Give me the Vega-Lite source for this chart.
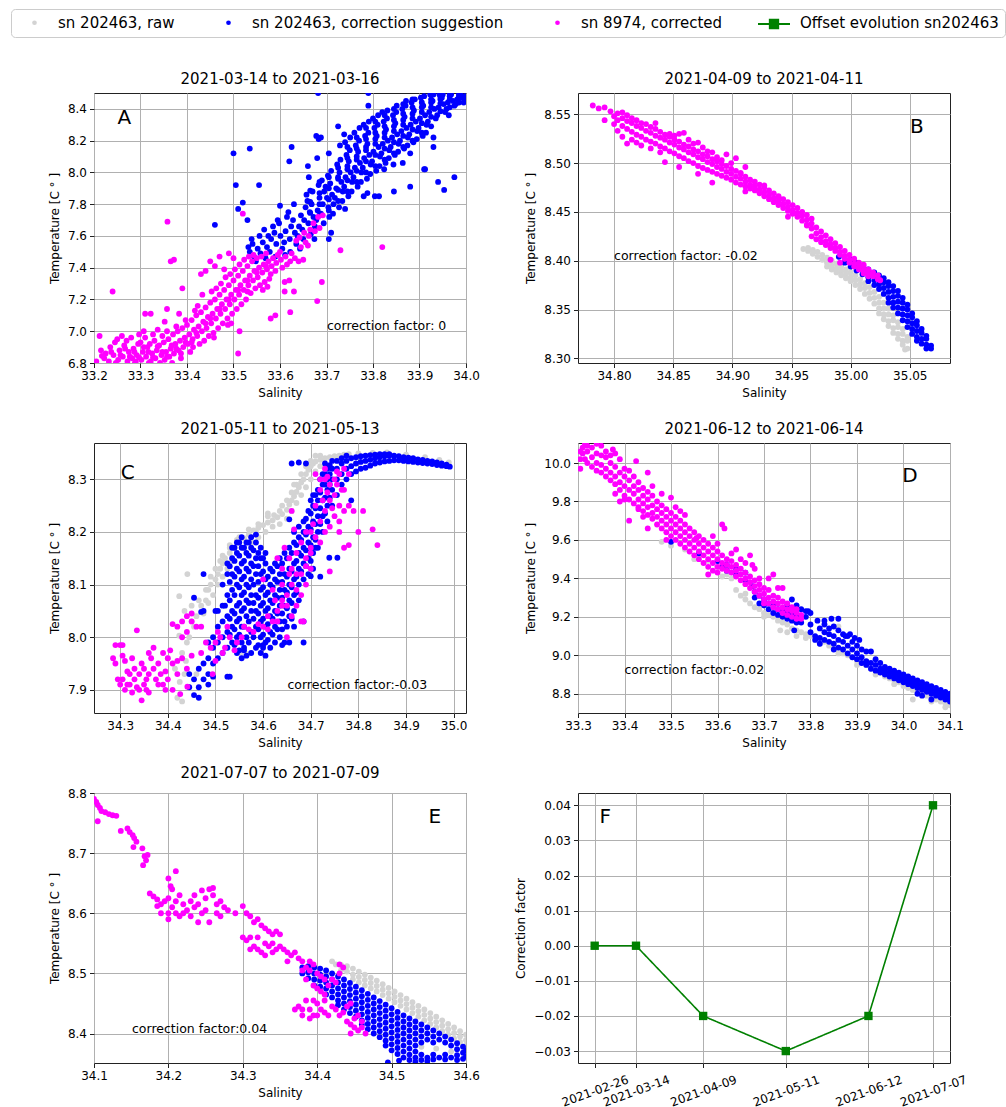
{
"$schema":"https://vega.github.io/schema/vega-lite/v6.json",
"background":"white",
"padding":{"left":10,"top":6,"right":3,"bottom":3},
"autosize":{"type":"pad"},
"config":{
"font":"DejaVu Sans",
"view":{"stroke":"#222222","strokeWidth":1},
"axis":{"domain":false,"grid":true,"gridColor":"#b0b0b0","gridWidth":1,"tickColor":"#222222","tickSize":4.5,"labelFontSize":12,"labelColor":"black","titleFontSize":12,"titleFontWeight":"normal","titleColor":"black","labelPadding":3,"titlePadding":6,"labelFlush":false,"labelOverlap":false,"tickCount":30},
"title":{"fontSize":15,"fontWeight":"normal","color":"black","offset":6},
"legend":{"symbolSize":22,"labelFontSize":15,"labelColor":"black","columnPadding":36,"labelOffset":16,"symbolOffset":10,"padding":6,"fillColor":"white","strokeColor":"#cccccc","cornerRadius":4,"labelLimit":400,"symbolStrokeWidth":0,"symbolOpacity":1}
},
"columns":2,
"spacing":{"row":80,"column":112},
"bounds":"flush",
"datasets":{
"pa":[
{"s":"b","x":33.532,"y":7.53},{"s":"b","x":33.535,"y":7.5},{"s":"b","x":33.541,"y":7.55},{"s":"b","x":33.544,"y":7.47},{"s":"b","x":33.539,"y":7.58},{"s":"b","x":33.552,"y":7.52},{"s":"b","x":33.548,"y":7.44},{"s":"b","x":33.556,"y":7.6},{"s":"b","x":33.563,"y":7.56},{"s":"b","x":33.558,"y":7.49},{"s":"b","x":33.566,"y":7.64},{"s":"b","x":33.572,"y":7.53},{"s":"b","x":33.575,"y":7.6},{"s":"b","x":33.569,"y":7.46},{"s":"b","x":33.581,"y":7.58},{"s":"b","x":33.585,"y":7.66},{"s":"b","x":33.578,"y":7.5},{"s":"b","x":33.592,"y":7.55},{"s":"b","x":33.588,"y":7.62},{"s":"b","x":33.595,"y":7.7},{"s":"b","x":33.59,"y":7.47},{"s":"b","x":33.601,"y":7.6},{"s":"b","x":33.605,"y":7.52},{"s":"b","x":33.598,"y":7.68},{"s":"b","x":33.6,"y":7.79},{"s":"b","x":33.612,"y":7.63},{"s":"b","x":33.609,"y":7.56},{"s":"b","x":33.615,"y":7.72},{"s":"b","x":33.611,"y":7.48},{"s":"b","x":33.621,"y":7.58},{"s":"b","x":33.624,"y":7.66},{"s":"b","x":33.618,"y":7.75},{"s":"b","x":33.622,"y":7.5},{"s":"b","x":33.632,"y":7.62},{"s":"b","x":33.628,"y":7.7},{"s":"b","x":33.635,"y":7.55},{"s":"b","x":33.63,"y":7.8},{"s":"b","x":33.641,"y":7.66},{"s":"b","x":33.645,"y":7.73},{"s":"b","x":33.638,"y":7.6},{"s":"b","x":33.643,"y":7.52},{"s":"b","x":33.652,"y":7.7},{"s":"b","x":33.648,"y":7.64},{"s":"b","x":33.655,"y":7.78},{"s":"b","x":33.65,"y":7.58},{"s":"b","x":33.657,"y":7.86},{"s":"b","x":33.661,"y":7.68},{"s":"b","x":33.664,"y":7.75},{"s":"b","x":33.659,"y":7.82},{"s":"b","x":33.666,"y":7.61},{"s":"b","x":33.662,"y":7.97},{"s":"b","x":33.672,"y":7.72},{"s":"b","x":33.668,"y":7.8},{"s":"b","x":33.675,"y":7.66},{"s":"b","x":33.67,"y":7.88},{"s":"b","x":33.674,"y":7.58},{"s":"b","x":33.681,"y":7.76},{"s":"b","x":33.685,"y":7.84},{"s":"b","x":33.678,"y":7.7},{"s":"b","x":33.683,"y":7.92},{"s":"b","x":33.68,"y":8.09},{"s":"b","x":33.692,"y":7.8},{"s":"b","x":33.688,"y":7.74},{"s":"b","x":33.695,"y":7.88},{"s":"b","x":33.69,"y":7.95},{"s":"b","x":33.694,"y":7.68},{"s":"b","x":33.701,"y":7.84},{"s":"b","x":33.704,"y":7.78},{"s":"b","x":33.698,"y":7.91},{"s":"b","x":33.703,"y":7.98},{"s":"b","x":33.706,"y":7.72},{"s":"b","x":33.71,"y":7.62},{"s":"b","x":33.712,"y":7.86},{"s":"b","x":33.708,"y":7.93},{"s":"b","x":33.715,"y":7.8},{"s":"b","x":33.71,"y":8.01},{"s":"b","x":33.714,"y":7.74},{"s":"b","x":33.705,"y":8.12},{"s":"b","x":33.721,"y":7.9},{"s":"b","x":33.725,"y":7.97},{"s":"b","x":33.718,"y":7.84},{"s":"b","x":33.723,"y":8.05},{"s":"b","x":33.727,"y":7.78},{"s":"b","x":33.732,"y":7.94},{"s":"b","x":33.728,"y":8.0},{"s":"b","x":33.735,"y":7.88},{"s":"b","x":33.73,"y":8.08},{"s":"b","x":33.734,"y":7.82},{"s":"b","x":33.729,"y":8.17},{"s":"b","x":33.741,"y":7.97},{"s":"b","x":33.745,"y":8.04},{"s":"b","x":33.738,"y":7.91},{"s":"b","x":33.743,"y":8.11},{"s":"b","x":33.747,"y":7.85},{"s":"b","x":33.74,"y":8.19},{"s":"b","x":33.752,"y":8.0},{"s":"b","x":33.748,"y":8.07},{"s":"b","x":33.755,"y":7.94},{"s":"b","x":33.75,"y":8.14},{"s":"b","x":33.754,"y":7.88},{"s":"b","x":33.751,"y":8.22},{"s":"b","x":33.761,"y":8.03},{"s":"b","x":33.765,"y":8.1},{"s":"b","x":33.758,"y":7.97},{"s":"b","x":33.763,"y":8.17},{"s":"b","x":33.767,"y":7.91},{"s":"b","x":33.76,"y":8.25},{"s":"b","x":33.772,"y":8.06},{"s":"b","x":33.768,"y":8.13},{"s":"b","x":33.775,"y":8.0},{"s":"b","x":33.77,"y":8.2},{"s":"b","x":33.774,"y":7.94},{"s":"b","x":33.771,"y":8.28},{"s":"b","x":33.781,"y":8.09},{"s":"b","x":33.785,"y":8.16},{"s":"b","x":33.778,"y":8.03},{"s":"b","x":33.783,"y":8.23},{"s":"b","x":33.787,"y":7.96},{"s":"b","x":33.78,"y":8.3},{"s":"b","x":33.792,"y":8.11},{"s":"b","x":33.788,"y":8.18},{"s":"b","x":33.795,"y":8.05},{"s":"b","x":33.79,"y":8.25},{"s":"b","x":33.794,"y":7.99},{"s":"b","x":33.791,"y":8.32},{"s":"b","x":33.801,"y":8.13},{"s":"b","x":33.805,"y":8.21},{"s":"b","x":33.798,"y":8.07},{"s":"b","x":33.803,"y":8.28},{"s":"b","x":33.807,"y":8.01},{"s":"b","x":33.8,"y":8.34},{"s":"b","x":33.804,"y":7.85},{"s":"b","x":33.812,"y":8.16},{"s":"b","x":33.808,"y":8.23},{"s":"b","x":33.815,"y":8.1},{"s":"b","x":33.81,"y":8.3},{"s":"b","x":33.814,"y":8.04},{"s":"b","x":33.811,"y":8.36},{"s":"b","x":33.821,"y":8.18},{"s":"b","x":33.825,"y":8.25},{"s":"b","x":33.818,"y":8.12},{"s":"b","x":33.823,"y":8.32},{"s":"b","x":33.827,"y":8.06},{"s":"b","x":33.82,"y":8.38},{"s":"b","x":33.824,"y":8.02},{"s":"b","x":33.832,"y":8.2},{"s":"b","x":33.828,"y":8.27},{"s":"b","x":33.835,"y":8.14},{"s":"b","x":33.83,"y":8.34},{"s":"b","x":33.834,"y":8.09},{"s":"b","x":33.831,"y":8.39},{"s":"b","x":33.841,"y":8.22},{"s":"b","x":33.845,"y":8.29},{"s":"b","x":33.838,"y":8.16},{"s":"b","x":33.843,"y":8.36},{"s":"b","x":33.847,"y":8.11},{"s":"b","x":33.844,"y":8.05},{"s":"b","x":33.852,"y":8.24},{"s":"b","x":33.848,"y":8.31},{"s":"b","x":33.855,"y":8.18},{"s":"b","x":33.85,"y":8.38},{"s":"b","x":33.854,"y":8.13},{"s":"b","x":33.851,"y":8.42},{"s":"b","x":33.861,"y":8.26},{"s":"b","x":33.865,"y":8.33},{"s":"b","x":33.858,"y":8.2},{"s":"b","x":33.863,"y":8.4},{"s":"b","x":33.867,"y":8.15},{"s":"b","x":33.864,"y":8.06},{"s":"b","x":33.872,"y":8.28},{"s":"b","x":33.868,"y":8.35},{"s":"b","x":33.875,"y":8.22},{"s":"b","x":33.87,"y":8.42},{"s":"b","x":33.874,"y":8.17},{"s":"b","x":33.871,"y":8.45},{"s":"b","x":33.881,"y":8.3},{"s":"b","x":33.885,"y":8.37},{"s":"b","x":33.878,"y":8.24},{"s":"b","x":33.883,"y":8.44},{"s":"b","x":33.887,"y":8.19},{"s":"b","x":33.88,"y":8.12},{"s":"b","x":33.892,"y":8.32},{"s":"b","x":33.888,"y":8.39},{"s":"b","x":33.895,"y":8.26},{"s":"b","x":33.89,"y":8.46},{"s":"b","x":33.894,"y":8.21},{"s":"b","x":33.901,"y":8.34},{"s":"b","x":33.905,"y":8.41},{"s":"b","x":33.898,"y":8.28},{"s":"b","x":33.903,"y":8.47},{"s":"b","x":33.907,"y":8.23},{"s":"b","x":33.91,"y":8.02},{"s":"b","x":33.912,"y":8.36},{"s":"b","x":33.908,"y":8.42},{"s":"b","x":33.915,"y":8.3},{"s":"b","x":33.91,"y":8.48},{"s":"b","x":33.914,"y":8.25},{"s":"b","x":33.921,"y":8.38},{"s":"b","x":33.925,"y":8.44},{"s":"b","x":33.918,"y":8.32},{"s":"b","x":33.923,"y":8.49},{"s":"b","x":33.932,"y":8.4},{"s":"b","x":33.928,"y":8.45},{"s":"b","x":33.935,"y":8.34},{"s":"b","x":33.93,"y":8.49},{"s":"b","x":33.941,"y":8.41},{"s":"b","x":33.945,"y":8.46},{"s":"b","x":33.938,"y":8.36},{"s":"b","x":33.943,"y":8.49},{"s":"b","x":33.952,"y":8.43},{"s":"b","x":33.948,"y":8.47},{"s":"b","x":33.955,"y":8.38},{"s":"b","x":33.95,"y":8.49},{"s":"b","x":33.961,"y":8.44},{"s":"b","x":33.965,"y":8.48},{"s":"b","x":33.958,"y":8.4},{"s":"b","x":33.963,"y":8.36},{"s":"b","x":33.972,"y":8.45},{"s":"b","x":33.968,"y":8.49},{"s":"b","x":33.975,"y":8.42},{"s":"b","x":33.981,"y":8.46},{"s":"b","x":33.985,"y":8.49},{"s":"b","x":33.978,"y":8.43},{"s":"b","x":33.992,"y":8.47},{"s":"b","x":33.988,"y":8.49},{"s":"b","x":33.995,"y":8.44},{"s":"b","x":33.998,"y":8.48},{"s":"b","x":34.0,"y":8.46},
{"s":"b","x":33.665,"y":7.745},{"s":"b","x":33.665,"y":7.815},{"s":"b","x":33.665,"y":7.885},{"s":"b","x":33.685,"y":7.8},{"s":"b","x":33.685,"y":7.87},{"s":"b","x":33.685,"y":7.94},{"s":"b","x":33.685,"y":7.73},{"s":"b","x":33.705,"y":7.83},{"s":"b","x":33.705,"y":7.9},{"s":"b","x":33.705,"y":7.97},{"s":"b","x":33.705,"y":7.76},{"s":"b","x":33.725,"y":7.89},{"s":"b","x":33.725,"y":7.96},{"s":"b","x":33.725,"y":8.03},{"s":"b","x":33.725,"y":7.82},{"s":"b","x":33.745,"y":7.95},{"s":"b","x":33.745,"y":8.02},{"s":"b","x":33.745,"y":8.09},{"s":"b","x":33.745,"y":7.88},{"s":"b","x":33.745,"y":8.16},{"s":"b","x":33.765,"y":8.01},{"s":"b","x":33.765,"y":8.08},{"s":"b","x":33.765,"y":8.15},{"s":"b","x":33.765,"y":7.94},{"s":"b","x":33.765,"y":8.22},{"s":"b","x":33.785,"y":8.07},{"s":"b","x":33.785,"y":8.14},{"s":"b","x":33.785,"y":8.21},{"s":"b","x":33.785,"y":8.0},{"s":"b","x":33.785,"y":8.28},{"s":"b","x":33.805,"y":8.11},{"s":"b","x":33.805,"y":8.18},{"s":"b","x":33.805,"y":8.25},{"s":"b","x":33.805,"y":8.04},{"s":"b","x":33.805,"y":8.32},{"s":"b","x":33.825,"y":8.15},{"s":"b","x":33.825,"y":8.22},{"s":"b","x":33.825,"y":8.29},{"s":"b","x":33.825,"y":8.08},{"s":"b","x":33.825,"y":8.36},{"s":"b","x":33.845,"y":8.19},{"s":"b","x":33.845,"y":8.26},{"s":"b","x":33.845,"y":8.33},{"s":"b","x":33.845,"y":8.12},{"s":"b","x":33.845,"y":8.4},{"s":"b","x":33.865,"y":8.23},{"s":"b","x":33.865,"y":8.3},{"s":"b","x":33.865,"y":8.37},{"s":"b","x":33.865,"y":8.16},{"s":"b","x":33.865,"y":8.43},{"s":"b","x":33.885,"y":8.27},{"s":"b","x":33.885,"y":8.34},{"s":"b","x":33.885,"y":8.41},{"s":"b","x":33.885,"y":8.2},{"s":"b","x":33.885,"y":8.46},{"s":"b","x":33.905,"y":8.31},{"s":"b","x":33.905,"y":8.38},{"s":"b","x":33.905,"y":8.44},{"s":"b","x":33.905,"y":8.25},{"s":"b","x":33.925,"y":8.35},{"s":"b","x":33.925,"y":8.41},{"s":"b","x":33.925,"y":8.46},{"s":"b","x":33.925,"y":8.29},{"s":"b","x":33.945,"y":8.385},{"s":"b","x":33.945,"y":8.435},{"s":"b","x":33.945,"y":8.475},{"s":"b","x":33.965,"y":8.41},{"s":"b","x":33.965,"y":8.46},{"s":"b","x":33.965,"y":8.49},{"s":"b","x":33.985,"y":8.44},{"s":"b","x":33.985,"y":8.48},
{"s":"b","x":33.5,"y":8.12},{"s":"b","x":33.535,"y":8.15},{"s":"b","x":33.505,"y":7.92},{"s":"b","x":33.555,"y":7.92},{"s":"b","x":33.52,"y":7.81},{"s":"b","x":33.46,"y":7.67},{"s":"b","x":33.51,"y":7.77},{"s":"b","x":33.53,"y":7.7},{"s":"b","x":33.625,"y":8.16},{"s":"b","x":33.62,"y":8.07},{"s":"b","x":33.66,"y":8.04},{"s":"b","x":33.678,"y":8.23},{"s":"b","x":33.683,"y":8.21},{"s":"b","x":33.688,"y":8.22},{"s":"b","x":33.725,"y":8.29},{"s":"b","x":33.738,"y":8.24},{"s":"b","x":33.682,"y":8.5},{"s":"b","x":33.79,"y":8.5},{"s":"b","x":33.79,"y":8.42},{"s":"b","x":33.93,"y":8.22},{"s":"b","x":33.93,"y":8.16},{"s":"b","x":33.975,"y":7.97},{"s":"b","x":33.953,"y":7.89},{"s":"b","x":33.94,"y":7.94},{"s":"b","x":33.912,"y":8.02},{"s":"b","x":33.88,"y":7.91},{"s":"b","x":33.845,"y":7.88},{"s":"b","x":33.813,"y":7.85},{"s":"b","x":33.788,"y":7.87},{"s":"b","x":33.705,"y":7.58},{"s":"b","x":33.74,"y":7.77},{"s":"b","x":33.78,"y":7.85},
{"s":"m","x":33.205,"y":6.81},{"s":"m","x":33.215,"y":6.88},{"s":"m","x":33.212,"y":6.97},{"s":"m","x":33.222,"y":6.83},{"s":"m","x":33.225,"y":6.86},{"s":"m","x":33.232,"y":6.81},{"s":"m","x":33.235,"y":6.9},{"s":"m","x":33.242,"y":6.85},{"s":"m","x":33.245,"y":6.93},{"s":"m","x":33.24,"y":7.25},{"s":"m","x":33.252,"y":6.82},{"s":"m","x":33.255,"y":6.88},{"s":"m","x":33.25,"y":6.95},{"s":"m","x":33.262,"y":6.84},{"s":"m","x":33.265,"y":6.91},{"s":"m","x":33.26,"y":6.97},{"s":"m","x":33.272,"y":6.81},{"s":"m","x":33.275,"y":6.87},{"s":"m","x":33.27,"y":6.94},{"s":"m","x":33.282,"y":6.83},{"s":"m","x":33.285,"y":6.89},{"s":"m","x":33.28,"y":6.96},{"s":"m","x":33.288,"y":6.8},{"s":"m","x":33.292,"y":6.85},{"s":"m","x":33.295,"y":6.92},{"s":"m","x":33.29,"y":6.81},{"s":"m","x":33.297,"y":6.98},{"s":"m","x":33.302,"y":6.82},{"s":"m","x":33.305,"y":6.87},{"s":"m","x":33.3,"y":6.93},{"s":"m","x":33.307,"y":7.0},{"s":"m","x":33.312,"y":6.84},{"s":"m","x":33.315,"y":6.9},{"s":"m","x":33.31,"y":6.96},{"s":"m","x":33.318,"y":6.8},{"s":"m","x":33.31,"y":7.11},{"s":"m","x":33.322,"y":6.81},{"s":"m","x":33.325,"y":6.86},{"s":"m","x":33.32,"y":6.92},{"s":"m","x":33.327,"y":6.98},{"s":"m","x":33.322,"y":7.11},{"s":"m","x":33.332,"y":6.83},{"s":"m","x":33.335,"y":6.88},{"s":"m","x":33.33,"y":6.94},{"s":"m","x":33.337,"y":7.01},{"s":"m","x":33.342,"y":6.8},{"s":"m","x":33.345,"y":6.85},{"s":"m","x":33.34,"y":6.91},{"s":"m","x":33.347,"y":6.97},{"s":"m","x":33.352,"y":6.82},{"s":"m","x":33.355,"y":6.87},{"s":"m","x":33.35,"y":6.93},{"s":"m","x":33.357,"y":7.0},{"s":"m","x":33.352,"y":7.06},{"s":"m","x":33.362,"y":6.84},{"s":"m","x":33.365,"y":6.89},{"s":"m","x":33.36,"y":6.95},{"s":"m","x":33.357,"y":7.14},{"s":"m","x":33.358,"y":7.69},{"s":"m","x":33.365,"y":7.44},{"s":"m","x":33.368,"y":6.8},{"s":"m","x":33.372,"y":6.86},{"s":"m","x":33.375,"y":6.92},{"s":"m","x":33.37,"y":6.98},{"s":"m","x":33.377,"y":7.03},{"s":"m","x":33.372,"y":7.45},{"s":"m","x":33.382,"y":6.88},{"s":"m","x":33.385,"y":6.94},{"s":"m","x":33.38,"y":7.0},{"s":"m","x":33.387,"y":6.83},{"s":"m","x":33.383,"y":7.11},{"s":"m","x":33.392,"y":6.9},{"s":"m","x":33.395,"y":6.96},{"s":"m","x":33.39,"y":7.02},{"s":"m","x":33.397,"y":7.07},{"s":"m","x":33.39,"y":7.27},{"s":"m","x":33.402,"y":6.92},{"s":"m","x":33.405,"y":6.98},{"s":"m","x":33.4,"y":7.04},{"s":"m","x":33.407,"y":6.87},{"s":"m","x":33.412,"y":6.95},{"s":"m","x":33.415,"y":7.01},{"s":"m","x":33.41,"y":7.07},{"s":"m","x":33.417,"y":7.13},{"s":"m","x":33.413,"y":6.9},{"s":"m","x":33.422,"y":6.97},{"s":"m","x":33.425,"y":7.03},{"s":"m","x":33.42,"y":7.1},{"s":"m","x":33.427,"y":6.92},{"s":"m","x":33.423,"y":7.16},{"s":"m","x":33.432,"y":7.0},{"s":"m","x":33.435,"y":7.06},{"s":"m","x":33.43,"y":7.12},{"s":"m","x":33.437,"y":6.94},{"s":"m","x":33.433,"y":7.23},{"s":"m","x":33.43,"y":7.36},{"s":"m","x":33.442,"y":7.02},{"s":"m","x":33.445,"y":7.09},{"s":"m","x":33.44,"y":7.15},{"s":"m","x":33.447,"y":6.97},{"s":"m","x":33.44,"y":7.38},{"s":"m","x":33.452,"y":7.05},{"s":"m","x":33.455,"y":7.11},{"s":"m","x":33.45,"y":7.18},{"s":"m","x":33.457,"y":6.99},{"s":"m","x":33.453,"y":7.25},{"s":"m","x":33.45,"y":7.44},{"s":"m","x":33.462,"y":7.08},{"s":"m","x":33.465,"y":7.14},{"s":"m","x":33.46,"y":7.2},{"s":"m","x":33.467,"y":7.02},{"s":"m","x":33.463,"y":7.27},{"s":"m","x":33.458,"y":6.96},{"s":"m","x":33.46,"y":7.41},{"s":"m","x":33.472,"y":7.11},{"s":"m","x":33.475,"y":7.17},{"s":"m","x":33.47,"y":7.23},{"s":"m","x":33.477,"y":7.05},{"s":"m","x":33.473,"y":7.3},{"s":"m","x":33.47,"y":7.47},{"s":"m","x":33.482,"y":7.14},{"s":"m","x":33.485,"y":7.2},{"s":"m","x":33.48,"y":7.26},{"s":"m","x":33.487,"y":7.08},{"s":"m","x":33.483,"y":7.34},{"s":"m","x":33.48,"y":7.39},{"s":"m","x":33.492,"y":7.17},{"s":"m","x":33.495,"y":7.23},{"s":"m","x":33.49,"y":7.29},{"s":"m","x":33.497,"y":7.11},{"s":"m","x":33.493,"y":7.36},{"s":"m","x":33.49,"y":7.49},{"s":"m","x":33.488,"y":7.04},{"s":"m","x":33.502,"y":7.2},{"s":"m","x":33.505,"y":7.26},{"s":"m","x":33.5,"y":7.32},{"s":"m","x":33.507,"y":7.14},{"s":"m","x":33.503,"y":7.39},{"s":"m","x":33.5,"y":7.46},{"s":"m","x":33.495,"y":7.05},{"s":"m","x":33.512,"y":7.23},{"s":"m","x":33.515,"y":7.29},{"s":"m","x":33.51,"y":7.35},{"s":"m","x":33.517,"y":7.17},{"s":"m","x":33.513,"y":7.42},{"s":"m","x":33.51,"y":6.86},{"s":"m","x":33.513,"y":7.0},{"s":"m","x":33.522,"y":7.26},{"s":"m","x":33.525,"y":7.32},{"s":"m","x":33.52,"y":7.38},{"s":"m","x":33.527,"y":7.2},{"s":"m","x":33.523,"y":7.45},{"s":"m","x":33.52,"y":7.74},{"s":"m","x":33.532,"y":7.29},{"s":"m","x":33.535,"y":7.35},{"s":"m","x":33.53,"y":7.41},{"s":"m","x":33.537,"y":7.24},{"s":"m","x":33.533,"y":7.47},{"s":"m","x":33.53,"y":7.25},{"s":"m","x":33.542,"y":7.32},{"s":"m","x":33.545,"y":7.38},{"s":"m","x":33.54,"y":7.44},{"s":"m","x":33.547,"y":7.27},{"s":"m","x":33.543,"y":7.48},{"s":"m","x":33.552,"y":7.34},{"s":"m","x":33.555,"y":7.4},{"s":"m","x":33.55,"y":7.46},{"s":"m","x":33.557,"y":7.29},{"s":"m","x":33.562,"y":7.37},{"s":"m","x":33.565,"y":7.42},{"s":"m","x":33.56,"y":7.47},{"s":"m","x":33.567,"y":7.31},{"s":"m","x":33.563,"y":7.26},{"s":"m","x":33.572,"y":7.39},{"s":"m","x":33.575,"y":7.44},{"s":"m","x":33.57,"y":7.49},{"s":"m","x":33.577,"y":7.33},{"s":"m","x":33.573,"y":7.28},{"s":"m","x":33.582,"y":7.41},{"s":"m","x":33.585,"y":7.46},{"s":"m","x":33.58,"y":7.36},{"s":"m","x":33.58,"y":7.08},{"s":"m","x":33.592,"y":7.43},{"s":"m","x":33.595,"y":7.48},{"s":"m","x":33.59,"y":7.38},{"s":"m","x":33.59,"y":7.1},{"s":"m","x":33.602,"y":7.45},{"s":"m","x":33.605,"y":7.4},{"s":"m","x":33.6,"y":7.5},{"s":"m","x":33.612,"y":7.47},{"s":"m","x":33.615,"y":7.42},{"s":"m","x":33.61,"y":7.31},{"s":"m","x":33.61,"y":7.25},{"s":"m","x":33.622,"y":7.44},{"s":"m","x":33.625,"y":7.49},{"s":"m","x":33.62,"y":7.32},{"s":"m","x":33.622,"y":7.12},{"s":"m","x":33.632,"y":7.46},{"s":"m","x":33.635,"y":7.57},{"s":"m","x":33.63,"y":7.25},{"s":"m","x":33.642,"y":7.59},{"s":"m","x":33.645,"y":7.53},{"s":"m","x":33.64,"y":7.44},{"s":"m","x":33.652,"y":7.62},{"s":"m","x":33.655,"y":7.56},{"s":"m","x":33.65,"y":7.45},{"s":"m","x":33.662,"y":7.6},{"s":"m","x":33.665,"y":7.64},{"s":"m","x":33.66,"y":7.54},{"s":"m","x":33.672,"y":7.68},{"s":"m","x":33.675,"y":7.63},{"s":"m","x":33.682,"y":7.72},{"s":"m","x":33.68,"y":7.19},{"s":"m","x":33.685,"y":7.65},{"s":"m","x":33.692,"y":7.73},{"s":"m","x":33.69,"y":7.31},{"s":"m","x":33.73,"y":7.51},{"s":"m","x":33.82,"y":7.53},
{"s":"m","x":33.217,"y":6.845},{"s":"m","x":33.237,"y":6.87},{"s":"m","x":33.247,"y":6.8},{"s":"m","x":33.257,"y":6.85},{"s":"m","x":33.267,"y":6.89},{"s":"m","x":33.277,"y":6.84},{"s":"m","x":33.287,"y":6.87},{"s":"m","x":33.297,"y":6.835},{"s":"m","x":33.307,"y":6.9},{"s":"m","x":33.317,"y":6.87},{"s":"m","x":33.327,"y":6.835},{"s":"m","x":33.337,"y":6.905},{"s":"m","x":33.347,"y":6.87},{"s":"m","x":33.357,"y":6.84},{"s":"m","x":33.367,"y":6.91},{"s":"m","x":33.377,"y":6.89},{"s":"m","x":33.387,"y":6.86},{"s":"m","x":33.397,"y":6.93},{"s":"m","x":33.41,"y":6.93},{"s":"m","x":33.42,"y":6.99},{"s":"m","x":33.44,"y":7.05},{"s":"m","x":33.45,"y":7.08},{"s":"m","x":33.47,"y":7.14},{"s":"m","x":33.49,"y":7.2},{"s":"m","x":33.51,"y":7.26},{"s":"m","x":33.53,"y":7.32},{"s":"m","x":33.55,"y":7.37},{"s":"m","x":33.57,"y":7.41}
],
"pb":[
{"s":"r","x":34.96,"y":8.412},{"s":"r","x":34.964,"y":8.41},{"s":"r","x":34.964,"y":8.413},{"s":"r","x":34.968,"y":8.407},{"s":"r","x":34.968,"y":8.411},{"s":"r","x":34.972,"y":8.404},{"s":"r","x":34.972,"y":8.409},{"s":"r","x":34.976,"y":8.401},{"s":"r","x":34.976,"y":8.406},{"s":"r","x":34.98,"y":8.398},{"s":"r","x":34.98,"y":8.403},{"s":"r","x":34.98,"y":8.394},{"s":"r","x":34.984,"y":8.395},{"s":"r","x":34.984,"y":8.4},{"s":"r","x":34.984,"y":8.391},{"s":"r","x":34.988,"y":8.392},{"s":"r","x":34.988,"y":8.397},{"s":"r","x":34.988,"y":8.388},{"s":"r","x":34.992,"y":8.389},{"s":"r","x":34.992,"y":8.394},{"s":"r","x":34.992,"y":8.385},{"s":"r","x":34.996,"y":8.386},{"s":"r","x":34.996,"y":8.391},{"s":"r","x":34.996,"y":8.382},{"s":"r","x":35.0,"y":8.383},{"s":"r","x":35.0,"y":8.388},{"s":"r","x":35.0,"y":8.379},{"s":"r","x":35.004,"y":8.38},{"s":"r","x":35.004,"y":8.385},{"s":"r","x":35.004,"y":8.375},{"s":"r","x":35.008,"y":8.376},{"s":"r","x":35.008,"y":8.381},{"s":"r","x":35.008,"y":8.371},{"s":"r","x":35.012,"y":8.372},{"s":"r","x":35.012,"y":8.377},{"s":"r","x":35.012,"y":8.366},{"s":"r","x":35.016,"y":8.367},{"s":"r","x":35.016,"y":8.373},{"s":"r","x":35.016,"y":8.361},{"s":"r","x":35.02,"y":8.362},{"s":"r","x":35.02,"y":8.368},{"s":"r","x":35.02,"y":8.356},{"s":"r","x":35.024,"y":8.357},{"s":"r","x":35.024,"y":8.363},{"s":"r","x":35.024,"y":8.351},{"s":"r","x":35.024,"y":8.346},{"s":"r","x":35.028,"y":8.351},{"s":"r","x":35.028,"y":8.357},{"s":"r","x":35.028,"y":8.345},{"s":"r","x":35.028,"y":8.34},{"s":"r","x":35.032,"y":8.345},{"s":"r","x":35.032,"y":8.351},{"s":"r","x":35.032,"y":8.338},{"s":"r","x":35.032,"y":8.333},{"s":"r","x":35.036,"y":8.339},{"s":"r","x":35.036,"y":8.344},{"s":"r","x":35.036,"y":8.331},{"s":"r","x":35.036,"y":8.326},{"s":"r","x":35.04,"y":8.332},{"s":"r","x":35.04,"y":8.337},{"s":"r","x":35.04,"y":8.325},{"s":"r","x":35.04,"y":8.32},{"s":"r","x":35.044,"y":8.325},{"s":"r","x":35.044,"y":8.33},{"s":"r","x":35.044,"y":8.318},{"s":"r","x":35.044,"y":8.314},{"s":"r","x":35.048,"y":8.318},{"s":"r","x":35.048,"y":8.31},{"s":"r","x":35.048,"y":8.322},{"s":"r","x":35.046,"y":8.309},
{"s":"b","x":34.99,"y":8.404},{"s":"b","x":34.995,"y":8.402},{"s":"b","x":34.995,"y":8.398},{"s":"b","x":35.0,"y":8.398},{"s":"b","x":35.0,"y":8.394},{"s":"b","x":35.0,"y":8.401},{"s":"b","x":35.005,"y":8.395},{"s":"b","x":35.005,"y":8.39},{"s":"b","x":35.005,"y":8.398},{"s":"b","x":35.01,"y":8.391},{"s":"b","x":35.01,"y":8.386},{"s":"b","x":35.01,"y":8.394},{"s":"b","x":35.015,"y":8.388},{"s":"b","x":35.015,"y":8.383},{"s":"b","x":35.015,"y":8.391},{"s":"b","x":35.015,"y":8.379},{"s":"b","x":35.02,"y":8.385},{"s":"b","x":35.02,"y":8.38},{"s":"b","x":35.02,"y":8.375},{"s":"b","x":35.02,"y":8.388},{"s":"b","x":35.024,"y":8.382},{"s":"b","x":35.024,"y":8.376},{"s":"b","x":35.024,"y":8.371},{"s":"b","x":35.024,"y":8.385},{"s":"b","x":35.028,"y":8.378},{"s":"b","x":35.028,"y":8.372},{"s":"b","x":35.028,"y":8.366},{"s":"b","x":35.028,"y":8.382},{"s":"b","x":35.032,"y":8.374},{"s":"b","x":35.032,"y":8.368},{"s":"b","x":35.032,"y":8.362},{"s":"b","x":35.032,"y":8.378},{"s":"b","x":35.032,"y":8.357},{"s":"b","x":35.036,"y":8.369},{"s":"b","x":35.036,"y":8.363},{"s":"b","x":35.036,"y":8.357},{"s":"b","x":35.036,"y":8.352},{"s":"b","x":35.036,"y":8.374},{"s":"b","x":35.04,"y":8.364},{"s":"b","x":35.04,"y":8.358},{"s":"b","x":35.04,"y":8.352},{"s":"b","x":35.04,"y":8.346},{"s":"b","x":35.04,"y":8.369},{"s":"b","x":35.044,"y":8.357},{"s":"b","x":35.044,"y":8.351},{"s":"b","x":35.044,"y":8.345},{"s":"b","x":35.044,"y":8.339},{"s":"b","x":35.044,"y":8.362},{"s":"b","x":35.048,"y":8.35},{"s":"b","x":35.048,"y":8.344},{"s":"b","x":35.048,"y":8.338},{"s":"b","x":35.048,"y":8.332},{"s":"b","x":35.048,"y":8.355},{"s":"b","x":35.052,"y":8.342},{"s":"b","x":35.052,"y":8.336},{"s":"b","x":35.052,"y":8.33},{"s":"b","x":35.052,"y":8.325},{"s":"b","x":35.052,"y":8.346},{"s":"b","x":35.056,"y":8.334},{"s":"b","x":35.056,"y":8.328},{"s":"b","x":35.056,"y":8.322},{"s":"b","x":35.056,"y":8.318},{"s":"b","x":35.056,"y":8.338},{"s":"b","x":35.06,"y":8.326},{"s":"b","x":35.06,"y":8.32},{"s":"b","x":35.06,"y":8.315},{"s":"b","x":35.06,"y":8.33},{"s":"b","x":35.064,"y":8.32},{"s":"b","x":35.064,"y":8.314},{"s":"b","x":35.064,"y":8.31},{"s":"b","x":35.064,"y":8.323},{"s":"b","x":35.068,"y":8.313},{"s":"b","x":35.068,"y":8.31},
{"s":"m","x":34.782,"y":8.559},{"s":"m","x":34.787,"y":8.556},{"s":"m","x":34.792,"y":8.557},{"s":"m","x":34.792,"y":8.544},{"s":"m","x":34.797,"y":8.553},{"s":"m","x":34.8,"y":8.548},{"s":"m","x":34.8,"y":8.54},{"s":"m","x":34.803,"y":8.551},{"s":"m","x":34.803,"y":8.533},{"s":"m","x":34.803,"y":8.544},{"s":"m","x":34.807,"y":8.546},{"s":"m","x":34.807,"y":8.538},{"s":"m","x":34.807,"y":8.527},{"s":"m","x":34.807,"y":8.552},{"s":"m","x":34.811,"y":8.543},{"s":"m","x":34.811,"y":8.535},{"s":"m","x":34.811,"y":8.52},{"s":"m","x":34.811,"y":8.549},{"s":"m","x":34.815,"y":8.541},{"s":"m","x":34.815,"y":8.532},{"s":"m","x":34.815,"y":8.524},{"s":"m","x":34.815,"y":8.546},{"s":"m","x":34.819,"y":8.538},{"s":"m","x":34.819,"y":8.529},{"s":"m","x":34.819,"y":8.544},{"s":"m","x":34.819,"y":8.521},{"s":"m","x":34.823,"y":8.536},{"s":"m","x":34.823,"y":8.527},{"s":"m","x":34.823,"y":8.541},{"s":"m","x":34.823,"y":8.518},{"s":"m","x":34.827,"y":8.533},{"s":"m","x":34.827,"y":8.54},{"s":"m","x":34.827,"y":8.524},{"s":"m","x":34.831,"y":8.531},{"s":"m","x":34.831,"y":8.537},{"s":"m","x":34.831,"y":8.522},{"s":"m","x":34.831,"y":8.515},{"s":"m","x":34.835,"y":8.528},{"s":"m","x":34.835,"y":8.535},{"s":"m","x":34.835,"y":8.52},{"s":"m","x":34.835,"y":8.541},{"s":"m","x":34.839,"y":8.526},{"s":"m","x":34.839,"y":8.532},{"s":"m","x":34.839,"y":8.517},{"s":"m","x":34.839,"y":8.511},{"s":"m","x":34.843,"y":8.524},{"s":"m","x":34.843,"y":8.529},{"s":"m","x":34.843,"y":8.515},{"s":"m","x":34.843,"y":8.501},{"s":"m","x":34.847,"y":8.521},{"s":"m","x":34.847,"y":8.527},{"s":"m","x":34.847,"y":8.512},{"s":"m","x":34.847,"y":8.53},{"s":"m","x":34.851,"y":8.519},{"s":"m","x":34.851,"y":8.524},{"s":"m","x":34.851,"y":8.51},{"s":"m","x":34.851,"y":8.528},{"s":"m","x":34.855,"y":8.516},{"s":"m","x":34.855,"y":8.522},{"s":"m","x":34.855,"y":8.507},{"s":"m","x":34.855,"y":8.496},{"s":"m","x":34.855,"y":8.53},{"s":"m","x":34.859,"y":8.514},{"s":"m","x":34.859,"y":8.519},{"s":"m","x":34.859,"y":8.505},{"s":"m","x":34.859,"y":8.531},{"s":"m","x":34.863,"y":8.511},{"s":"m","x":34.863,"y":8.517},{"s":"m","x":34.863,"y":8.502},{"s":"m","x":34.863,"y":8.524},{"s":"m","x":34.867,"y":8.509},{"s":"m","x":34.867,"y":8.514},{"s":"m","x":34.867,"y":8.5},{"s":"m","x":34.867,"y":8.52},{"s":"m","x":34.871,"y":8.506},{"s":"m","x":34.871,"y":8.512},{"s":"m","x":34.871,"y":8.497},{"s":"m","x":34.871,"y":8.521},{"s":"m","x":34.871,"y":8.489},{"s":"m","x":34.875,"y":8.504},{"s":"m","x":34.875,"y":8.509},{"s":"m","x":34.875,"y":8.495},{"s":"m","x":34.875,"y":8.516},{"s":"m","x":34.879,"y":8.501},{"s":"m","x":34.879,"y":8.507},{"s":"m","x":34.879,"y":8.493},{"s":"m","x":34.879,"y":8.512},{"s":"m","x":34.883,"y":8.499},{"s":"m","x":34.883,"y":8.504},{"s":"m","x":34.883,"y":8.491},{"s":"m","x":34.883,"y":8.48},{"s":"m","x":34.883,"y":8.511},{"s":"m","x":34.887,"y":8.496},{"s":"m","x":34.887,"y":8.502},{"s":"m","x":34.887,"y":8.489},{"s":"m","x":34.887,"y":8.506},{"s":"m","x":34.891,"y":8.494},{"s":"m","x":34.891,"y":8.499},{"s":"m","x":34.891,"y":8.487},{"s":"m","x":34.891,"y":8.503},{"s":"m","x":34.895,"y":8.491},{"s":"m","x":34.895,"y":8.497},{"s":"m","x":34.895,"y":8.485},{"s":"m","x":34.895,"y":8.509},{"s":"m","x":34.899,"y":8.489},{"s":"m","x":34.899,"y":8.494},{"s":"m","x":34.899,"y":8.483},{"s":"m","x":34.899,"y":8.5},{"s":"m","x":34.903,"y":8.486},{"s":"m","x":34.903,"y":8.492},{"s":"m","x":34.903,"y":8.48},{"s":"m","x":34.903,"y":8.505},{"s":"m","x":34.907,"y":8.484},{"s":"m","x":34.907,"y":8.489},{"s":"m","x":34.907,"y":8.478},{"s":"m","x":34.907,"y":8.49},{"s":"m","x":34.911,"y":8.481},{"s":"m","x":34.911,"y":8.486},{"s":"m","x":34.911,"y":8.476},{"s":"m","x":34.911,"y":8.471},{"s":"m","x":34.911,"y":8.496},{"s":"m","x":34.915,"y":8.478},{"s":"m","x":34.915,"y":8.483},{"s":"m","x":34.915,"y":8.474},{"s":"m","x":34.919,"y":8.476},{"s":"m","x":34.919,"y":8.481},{"s":"m","x":34.919,"y":8.472},{"s":"m","x":34.923,"y":8.473},{"s":"m","x":34.923,"y":8.478},{"s":"m","x":34.923,"y":8.469},{"s":"m","x":34.927,"y":8.47},{"s":"m","x":34.927,"y":8.475},{"s":"m","x":34.927,"y":8.466},{"s":"m","x":34.927,"y":8.477},{"s":"m","x":34.931,"y":8.467},{"s":"m","x":34.931,"y":8.472},{"s":"m","x":34.931,"y":8.463},{"s":"m","x":34.935,"y":8.464},{"s":"m","x":34.935,"y":8.469},{"s":"m","x":34.935,"y":8.46},{"s":"m","x":34.939,"y":8.461},{"s":"m","x":34.939,"y":8.466},{"s":"m","x":34.939,"y":8.457},{"s":"m","x":34.939,"y":8.465},{"s":"m","x":34.943,"y":8.458},{"s":"m","x":34.943,"y":8.463},{"s":"m","x":34.943,"y":8.454},{"s":"m","x":34.947,"y":8.455},{"s":"m","x":34.947,"y":8.46},{"s":"m","x":34.947,"y":8.451},{"s":"m","x":34.947,"y":8.445},{"s":"m","x":34.951,"y":8.452},{"s":"m","x":34.951,"y":8.457},{"s":"m","x":34.951,"y":8.448},{"s":"m","x":34.955,"y":8.449},{"s":"m","x":34.955,"y":8.454},{"s":"m","x":34.955,"y":8.445},{"s":"m","x":34.959,"y":8.446},{"s":"m","x":34.959,"y":8.45},{"s":"m","x":34.959,"y":8.441},{"s":"m","x":34.963,"y":8.442},{"s":"m","x":34.963,"y":8.447},{"s":"m","x":34.963,"y":8.437},{"s":"m","x":34.963,"y":8.436},{"s":"m","x":34.967,"y":8.438},{"s":"m","x":34.967,"y":8.443},{"s":"m","x":34.967,"y":8.433},{"s":"m","x":34.967,"y":8.425},{"s":"m","x":34.971,"y":8.434},{"s":"m","x":34.971,"y":8.428},{"s":"m","x":34.971,"y":8.422},{"s":"m","x":34.975,"y":8.43},{"s":"m","x":34.975,"y":8.424},{"s":"m","x":34.975,"y":8.419},{"s":"m","x":34.979,"y":8.426},{"s":"m","x":34.979,"y":8.42},{"s":"m","x":34.979,"y":8.416},{"s":"m","x":34.983,"y":8.422},{"s":"m","x":34.983,"y":8.417},{"s":"m","x":34.983,"y":8.413},{"s":"m","x":34.983,"y":8.401},{"s":"m","x":34.987,"y":8.418},{"s":"m","x":34.987,"y":8.413},{"s":"m","x":34.987,"y":8.41},{"s":"m","x":34.991,"y":8.414},{"s":"m","x":34.991,"y":8.409},{"s":"m","x":34.991,"y":8.406},{"s":"m","x":34.991,"y":8.398},{"s":"m","x":34.995,"y":8.41},{"s":"m","x":34.995,"y":8.405},{"s":"m","x":34.995,"y":8.402},{"s":"m","x":34.999,"y":8.406},{"s":"m","x":34.999,"y":8.401},{"s":"m","x":34.999,"y":8.398},{"s":"m","x":35.003,"y":8.402},{"s":"m","x":35.003,"y":8.397},{"s":"m","x":35.003,"y":8.394},{"s":"m","x":35.007,"y":8.398},{"s":"m","x":35.007,"y":8.393},{"s":"m","x":35.007,"y":8.391},{"s":"m","x":35.011,"y":8.394},{"s":"m","x":35.011,"y":8.39},{"s":"m","x":35.011,"y":8.387},{"s":"m","x":35.011,"y":8.396},{"s":"m","x":35.015,"y":8.391},{"s":"m","x":35.015,"y":8.387},{"s":"m","x":35.015,"y":8.384},{"s":"m","x":35.019,"y":8.388},{"s":"m","x":35.019,"y":8.384},{"s":"m","x":35.023,"y":8.385},{"s":"m","x":35.023,"y":8.381},{"s":"m","x":35.025,"y":8.38}
],
"pc":[
{"s":"r","x":34.424,"y":8.078},{"s":"r","x":34.441,"y":8.12},{"s":"r","x":34.424,"y":8.003},{"s":"r","x":34.445,"y":8.0},{"s":"r","x":34.455,"y":8.02},{"s":"r","x":34.45,"y":8.03},{"s":"r","x":34.46,"y":8.04},{"s":"r","x":34.47,"y":8.06},{"s":"r","x":34.48,"y":8.07},{"s":"r","x":34.485,"y":8.09},{"s":"r","x":34.49,"y":8.1},{"s":"r","x":34.5,"y":8.11},{"s":"r","x":34.505,"y":8.12},{"s":"r","x":34.51,"y":8.13},{"s":"r","x":34.515,"y":8.14},{"s":"r","x":34.52,"y":8.15},{"s":"r","x":34.53,"y":8.16},{"s":"r","x":34.54,"y":8.17},{"s":"r","x":34.55,"y":8.18},{"s":"r","x":34.56,"y":8.188},{"s":"r","x":34.57,"y":8.195},{"s":"r","x":34.58,"y":8.203},{"s":"r","x":34.59,"y":8.208},{"s":"r","x":34.6,"y":8.213},{"s":"r","x":34.61,"y":8.218},{"s":"r","x":34.62,"y":8.222},{"s":"r","x":34.623,"y":8.232},{"s":"r","x":34.63,"y":8.228},{"s":"r","x":34.64,"y":8.234},{"s":"r","x":34.65,"y":8.242},{"s":"r","x":34.655,"y":8.252},{"s":"r","x":34.66,"y":8.26},{"s":"r","x":34.665,"y":8.268},{"s":"r","x":34.67,"y":8.276},{"s":"r","x":34.675,"y":8.285},{"s":"r","x":34.68,"y":8.294},{"s":"r","x":34.685,"y":8.3},{"s":"r","x":34.69,"y":8.31},{"s":"r","x":34.695,"y":8.318},{"s":"r","x":34.7,"y":8.325},{"s":"r","x":34.705,"y":8.33},{"s":"r","x":34.71,"y":8.334},{"s":"r","x":34.72,"y":8.337},{"s":"r","x":34.73,"y":8.34},{"s":"r","x":34.74,"y":8.342},{"s":"r","x":34.75,"y":8.344},{"s":"r","x":34.76,"y":8.345},{"s":"r","x":34.77,"y":8.347},{"s":"r","x":34.78,"y":8.348},{"s":"r","x":34.8,"y":8.349},{"s":"r","x":34.83,"y":8.35},{"s":"r","x":34.86,"y":8.351},{"s":"r","x":34.9,"y":8.347},{"s":"r","x":34.94,"y":8.342},{"s":"r","x":34.97,"y":8.337},{"s":"r","x":34.99,"y":8.332},{"s":"r","x":34.42,"y":7.885},{"s":"r","x":34.43,"y":7.878},{"s":"r","x":34.435,"y":7.93},{"s":"r","x":34.425,"y":7.915},{"s":"r","x":34.415,"y":7.94},{"s":"r","x":34.438,"y":7.955},{"s":"r","x":34.553,"y":7.97},{"s":"r","x":34.567,"y":7.968},{"s":"r","x":34.53,"y":8.175},{"s":"r","x":34.545,"y":8.185},{"s":"r","x":34.51,"y":8.145},{"s":"r","x":34.61,"y":8.235},{"s":"r","x":34.64,"y":8.25},{"s":"r","x":34.665,"y":8.29},{"s":"r","x":34.69,"y":8.325},{"s":"r","x":34.71,"y":8.345},{"s":"r","x":34.585,"y":8.2},{"s":"r","x":34.4,"y":7.96},
{"s":"r","x":34.475,"y":8.045},{"s":"r","x":34.485,"y":8.065},{"s":"r","x":34.495,"y":8.08},{"s":"r","x":34.505,"y":8.1},{"s":"r","x":34.515,"y":8.115},{"s":"r","x":34.525,"y":8.13},{"s":"r","x":34.535,"y":8.145},{"s":"r","x":34.545,"y":8.16},{"s":"r","x":34.56,"y":8.17},{"s":"r","x":34.575,"y":8.18},{"s":"r","x":34.59,"y":8.19},{"s":"r","x":34.605,"y":8.2},{"s":"r","x":34.62,"y":8.21},{"s":"r","x":34.635,"y":8.215},{"s":"r","x":34.65,"y":8.225},{"s":"r","x":34.66,"y":8.24},{"s":"r","x":34.67,"y":8.255},{"s":"r","x":34.68,"y":8.27},{"s":"r","x":34.69,"y":8.285},{"s":"r","x":34.7,"y":8.3},{"s":"r","x":34.71,"y":8.315},{"s":"r","x":34.72,"y":8.325},{"s":"r","x":34.465,"y":8.07},{"s":"r","x":34.48,"y":8.09},{"s":"r","x":34.49,"y":8.115},{"s":"r","x":34.5,"y":8.13},{"s":"r","x":34.515,"y":8.155},{"s":"r","x":34.53,"y":8.17},{"s":"r","x":34.55,"y":8.19},{"s":"r","x":34.57,"y":8.205},{"s":"r","x":34.59,"y":8.215},{"s":"r","x":34.61,"y":8.23},{"s":"r","x":34.635,"y":8.24},{"s":"r","x":34.65,"y":8.26},{"s":"r","x":34.66,"y":8.275},{"s":"r","x":34.67,"y":8.29},{"s":"r","x":34.68,"y":8.31},{"s":"r","x":34.7,"y":8.335},{"s":"r","x":34.72,"y":8.345},{"s":"r","x":34.435,"y":8.05},{"s":"r","x":34.45,"y":8.06},{"s":"r","x":34.44,"y":7.99},{"s":"r","x":34.43,"y":7.97},{"s":"r","x":34.46,"y":7.93},
{"s":"b","x":34.445,"y":7.905},{"s":"b","x":34.445,"y":7.93},{"s":"b","x":34.455,"y":7.89},{"s":"b","x":34.455,"y":7.92},{"s":"b","x":34.455,"y":8.075},{"s":"b","x":34.465,"y":7.885},{"s":"b","x":34.465,"y":7.905},{"s":"b","x":34.465,"y":7.94},{"s":"b","x":34.475,"y":7.92},{"s":"b","x":34.475,"y":7.95},{"s":"b","x":34.475,"y":8.12},{"s":"b","x":34.475,"y":8.05},{"s":"b","x":34.485,"y":7.93},{"s":"b","x":34.485,"y":7.96},{"s":"b","x":34.485,"y":7.99},{"s":"b","x":34.485,"y":7.91},{"s":"b","x":34.495,"y":7.925},{"s":"b","x":34.495,"y":7.95},{"s":"b","x":34.495,"y":7.98},{"s":"b","x":34.495,"y":8.0},{"s":"b","x":34.505,"y":7.96},{"s":"b","x":34.505,"y":7.99},{"s":"b","x":34.505,"y":8.02},{"s":"b","x":34.505,"y":8.05},{"s":"b","x":34.515,"y":7.97},{"s":"b","x":34.515,"y":8.0},{"s":"b","x":34.515,"y":8.03},{"s":"b","x":34.515,"y":8.06},{"s":"b","x":34.515,"y":8.1},{"s":"b","x":34.525,"y":7.98},{"s":"b","x":34.525,"y":8.01},{"s":"b","x":34.525,"y":8.04},{"s":"b","x":34.525,"y":8.08},{"s":"b","x":34.525,"y":8.12},{"s":"b","x":34.525,"y":8.14},{"s":"b","x":34.525,"y":7.925},{"s":"b","x":34.535,"y":7.99},{"s":"b","x":34.535,"y":8.02},{"s":"b","x":34.535,"y":8.05},{"s":"b","x":34.535,"y":8.09},{"s":"b","x":34.535,"y":8.12},{"s":"b","x":34.535,"y":8.15},{"s":"b","x":34.535,"y":8.17},{"s":"b","x":34.545,"y":7.97},{"s":"b","x":34.545,"y":8.0},{"s":"b","x":34.545,"y":8.03},{"s":"b","x":34.545,"y":8.06},{"s":"b","x":34.545,"y":8.1},{"s":"b","x":34.545,"y":8.13},{"s":"b","x":34.545,"y":8.16},{"s":"b","x":34.545,"y":8.18},{"s":"b","x":34.555,"y":7.96},{"s":"b","x":34.555,"y":7.99},{"s":"b","x":34.555,"y":8.02},{"s":"b","x":34.555,"y":8.05},{"s":"b","x":34.555,"y":8.08},{"s":"b","x":34.555,"y":8.11},{"s":"b","x":34.555,"y":8.14},{"s":"b","x":34.555,"y":8.17},{"s":"b","x":34.555,"y":8.19},{"s":"b","x":34.565,"y":7.965},{"s":"b","x":34.565,"y":8.0},{"s":"b","x":34.565,"y":8.04},{"s":"b","x":34.565,"y":8.07},{"s":"b","x":34.565,"y":8.1},{"s":"b","x":34.565,"y":8.13},{"s":"b","x":34.565,"y":8.16},{"s":"b","x":34.565,"y":8.18},{"s":"b","x":34.575,"y":7.97},{"s":"b","x":34.575,"y":8.01},{"s":"b","x":34.575,"y":8.05},{"s":"b","x":34.575,"y":8.08},{"s":"b","x":34.575,"y":8.11},{"s":"b","x":34.575,"y":8.14},{"s":"b","x":34.575,"y":8.17},{"s":"b","x":34.575,"y":8.19},{"s":"b","x":34.585,"y":7.98},{"s":"b","x":34.585,"y":8.02},{"s":"b","x":34.585,"y":8.05},{"s":"b","x":34.585,"y":8.08},{"s":"b","x":34.585,"y":8.12},{"s":"b","x":34.585,"y":8.15},{"s":"b","x":34.585,"y":8.18},{"s":"b","x":34.585,"y":8.195},{"s":"b","x":34.595,"y":7.97},{"s":"b","x":34.595,"y":8.0},{"s":"b","x":34.595,"y":8.03},{"s":"b","x":34.595,"y":8.06},{"s":"b","x":34.595,"y":8.09},{"s":"b","x":34.595,"y":8.12},{"s":"b","x":34.595,"y":8.15},{"s":"b","x":34.595,"y":8.17},{"s":"b","x":34.605,"y":7.965},{"s":"b","x":34.605,"y":7.99},{"s":"b","x":34.605,"y":8.02},{"s":"b","x":34.605,"y":8.05},{"s":"b","x":34.605,"y":8.08},{"s":"b","x":34.605,"y":8.11},{"s":"b","x":34.605,"y":8.14},{"s":"b","x":34.605,"y":8.16},{"s":"b","x":34.615,"y":7.98},{"s":"b","x":34.615,"y":8.01},{"s":"b","x":34.615,"y":8.04},{"s":"b","x":34.615,"y":8.07},{"s":"b","x":34.615,"y":8.1},{"s":"b","x":34.615,"y":8.13},{"s":"b","x":34.625,"y":7.99},{"s":"b","x":34.625,"y":8.02},{"s":"b","x":34.625,"y":8.05},{"s":"b","x":34.625,"y":8.08},{"s":"b","x":34.625,"y":8.11},{"s":"b","x":34.625,"y":8.14},{"s":"b","x":34.635,"y":8.0},{"s":"b","x":34.635,"y":8.03},{"s":"b","x":34.635,"y":8.06},{"s":"b","x":34.635,"y":8.09},{"s":"b","x":34.635,"y":8.12},{"s":"b","x":34.635,"y":8.15},{"s":"b","x":34.645,"y":7.99},{"s":"b","x":34.645,"y":8.03},{"s":"b","x":34.645,"y":8.06},{"s":"b","x":34.645,"y":8.09},{"s":"b","x":34.645,"y":8.12},{"s":"b","x":34.645,"y":8.16},{"s":"b","x":34.655,"y":7.99},{"s":"b","x":34.655,"y":8.04},{"s":"b","x":34.655,"y":8.07},{"s":"b","x":34.655,"y":8.1},{"s":"b","x":34.655,"y":8.13},{"s":"b","x":34.655,"y":8.17},{"s":"b","x":34.655,"y":8.224},{"s":"b","x":34.665,"y":8.02},{"s":"b","x":34.665,"y":8.05},{"s":"b","x":34.665,"y":8.08},{"s":"b","x":34.665,"y":8.11},{"s":"b","x":34.665,"y":8.14},{"s":"b","x":34.665,"y":8.18},{"s":"b","x":34.665,"y":8.2},{"s":"b","x":34.675,"y":8.07},{"s":"b","x":34.675,"y":8.1},{"s":"b","x":34.675,"y":8.13},{"s":"b","x":34.675,"y":8.16},{"s":"b","x":34.675,"y":8.19},{"s":"b","x":34.675,"y":8.21},{"s":"b","x":34.685,"y":8.03},{"s":"b","x":34.685,"y":8.11},{"s":"b","x":34.685,"y":8.14},{"s":"b","x":34.685,"y":8.17},{"s":"b","x":34.685,"y":8.2},{"s":"b","x":34.685,"y":8.22},{"s":"b","x":34.685,"y":7.99},{"s":"b","x":34.695,"y":8.12},{"s":"b","x":34.695,"y":8.15},{"s":"b","x":34.695,"y":8.18},{"s":"b","x":34.695,"y":8.21},{"s":"b","x":34.695,"y":8.24},{"s":"b","x":34.705,"y":8.13},{"s":"b","x":34.705,"y":8.16},{"s":"b","x":34.705,"y":8.19},{"s":"b","x":34.705,"y":8.22},{"s":"b","x":34.705,"y":8.25},{"s":"b","x":34.705,"y":8.27},{"s":"b","x":34.715,"y":8.17},{"s":"b","x":34.715,"y":8.2},{"s":"b","x":34.715,"y":8.23},{"s":"b","x":34.715,"y":8.26},{"s":"b","x":34.715,"y":8.28},{"s":"b","x":34.7,"y":8.116},{"s":"b","x":34.725,"y":8.2},{"s":"b","x":34.725,"y":8.23},{"s":"b","x":34.725,"y":8.26},{"s":"b","x":34.725,"y":8.29},{"s":"b","x":34.725,"y":8.31},{"s":"b","x":34.735,"y":8.22},{"s":"b","x":34.735,"y":8.25},{"s":"b","x":34.735,"y":8.28},{"s":"b","x":34.735,"y":8.3},{"s":"b","x":34.735,"y":8.32},{"s":"b","x":34.739,"y":8.151},{"s":"b","x":34.745,"y":8.25},{"s":"b","x":34.745,"y":8.28},{"s":"b","x":34.745,"y":8.3},{"s":"b","x":34.745,"y":8.32},{"s":"b","x":34.745,"y":8.335},{"s":"b","x":34.756,"y":8.151},{"s":"b","x":34.755,"y":8.27},{"s":"b","x":34.755,"y":8.3},{"s":"b","x":34.755,"y":8.32},{"s":"b","x":34.755,"y":8.335},{"s":"b","x":34.765,"y":8.29},{"s":"b","x":34.765,"y":8.31},{"s":"b","x":34.765,"y":8.33},{"s":"b","x":34.765,"y":8.34},{"s":"b","x":34.775,"y":8.3},{"s":"b","x":34.775,"y":8.32},{"s":"b","x":34.775,"y":8.335},{"s":"b","x":34.775,"y":8.345},{"s":"b","x":34.785,"y":8.31},{"s":"b","x":34.785,"y":8.325},{"s":"b","x":34.785,"y":8.34},{"s":"b","x":34.785,"y":8.26},{"s":"b","x":34.795,"y":8.315},{"s":"b","x":34.795,"y":8.33},{"s":"b","x":34.795,"y":8.342},{"s":"b","x":34.805,"y":8.32},{"s":"b","x":34.805,"y":8.333},{"s":"b","x":34.805,"y":8.344},{"s":"b","x":34.815,"y":8.322},{"s":"b","x":34.815,"y":8.335},{"s":"b","x":34.815,"y":8.345},{"s":"b","x":34.825,"y":8.326},{"s":"b","x":34.825,"y":8.337},{"s":"b","x":34.825,"y":8.346},{"s":"b","x":34.835,"y":8.33},{"s":"b","x":34.835,"y":8.34},{"s":"b","x":34.835,"y":8.347},{"s":"b","x":34.845,"y":8.332},{"s":"b","x":34.845,"y":8.342},{"s":"b","x":34.845,"y":8.348},{"s":"b","x":34.855,"y":8.334},{"s":"b","x":34.855,"y":8.344},{"s":"b","x":34.855,"y":8.348},{"s":"b","x":34.865,"y":8.335},{"s":"b","x":34.865,"y":8.345},{"s":"b","x":34.865,"y":8.348},{"s":"b","x":34.875,"y":8.336},{"s":"b","x":34.875,"y":8.345},{"s":"b","x":34.885,"y":8.336},{"s":"b","x":34.885,"y":8.344},{"s":"b","x":34.895,"y":8.335},{"s":"b","x":34.895,"y":8.342},{"s":"b","x":34.905,"y":8.334},{"s":"b","x":34.905,"y":8.341},{"s":"b","x":34.915,"y":8.333},{"s":"b","x":34.915,"y":8.34},{"s":"b","x":34.925,"y":8.332},{"s":"b","x":34.925,"y":8.338},{"s":"b","x":34.935,"y":8.331},{"s":"b","x":34.935,"y":8.337},{"s":"b","x":34.945,"y":8.33},{"s":"b","x":34.945,"y":8.335},{"s":"b","x":34.955,"y":8.329},{"s":"b","x":34.955,"y":8.334},{"s":"b","x":34.965,"y":8.327},{"s":"b","x":34.965,"y":8.332},{"s":"b","x":34.975,"y":8.326},{"s":"b","x":34.975,"y":8.33},{"s":"b","x":34.985,"y":8.325},{"s":"b","x":34.985,"y":8.328},{"s":"b","x":34.992,"y":8.324},{"s":"b","x":34.66,"y":8.33},{"s":"b","x":34.675,"y":8.332},{"s":"b","x":34.69,"y":8.33},{"s":"b","x":34.73,"y":8.33},{"s":"b","x":34.6,"y":7.985},{"s":"b","x":34.64,"y":7.985},{"s":"b","x":34.56,"y":7.975},{"s":"b","x":34.5,"y":8.05},{"s":"b","x":34.47,"y":8.048},{"s":"b","x":34.52,"y":8.06},{"s":"b","x":34.53,"y":7.925},{"s":"b","x":34.72,"y":8.115},{"s":"b","x":34.71,"y":8.17},
{"s":"b","x":34.53,"y":8.005},{"s":"b","x":34.53,"y":8.035},{"s":"b","x":34.53,"y":8.07},{"s":"b","x":34.53,"y":8.105},{"s":"b","x":34.53,"y":8.135},{"s":"b","x":34.54,"y":7.985},{"s":"b","x":34.54,"y":8.015},{"s":"b","x":34.54,"y":8.045},{"s":"b","x":34.54,"y":8.08},{"s":"b","x":34.54,"y":8.115},{"s":"b","x":34.54,"y":8.145},{"s":"b","x":34.54,"y":8.17},{"s":"b","x":34.55,"y":7.975},{"s":"b","x":34.55,"y":8.005},{"s":"b","x":34.55,"y":8.035},{"s":"b","x":34.55,"y":8.065},{"s":"b","x":34.55,"y":8.095},{"s":"b","x":34.55,"y":8.125},{"s":"b","x":34.55,"y":8.155},{"s":"b","x":34.55,"y":8.18},{"s":"b","x":34.56,"y":7.98},{"s":"b","x":34.56,"y":8.02},{"s":"b","x":34.56,"y":8.055},{"s":"b","x":34.56,"y":8.085},{"s":"b","x":34.56,"y":8.115},{"s":"b","x":34.56,"y":8.145},{"s":"b","x":34.56,"y":8.17},{"s":"b","x":34.57,"y":7.99},{"s":"b","x":34.57,"y":8.03},{"s":"b","x":34.57,"y":8.065},{"s":"b","x":34.57,"y":8.095},{"s":"b","x":34.57,"y":8.125},{"s":"b","x":34.57,"y":8.155},{"s":"b","x":34.57,"y":8.18},{"s":"b","x":34.58,"y":8.0},{"s":"b","x":34.58,"y":8.035},{"s":"b","x":34.58,"y":8.065},{"s":"b","x":34.58,"y":8.1},{"s":"b","x":34.58,"y":8.135},{"s":"b","x":34.58,"y":8.165},{"s":"b","x":34.59,"y":7.985},{"s":"b","x":34.59,"y":8.015},{"s":"b","x":34.59,"y":8.045},{"s":"b","x":34.59,"y":8.075},{"s":"b","x":34.59,"y":8.105},{"s":"b","x":34.59,"y":8.135},{"s":"b","x":34.59,"y":8.16},{"s":"b","x":34.6,"y":7.98},{"s":"b","x":34.6,"y":8.005},{"s":"b","x":34.6,"y":8.035},{"s":"b","x":34.6,"y":8.065},{"s":"b","x":34.6,"y":8.095},{"s":"b","x":34.6,"y":8.125},{"s":"b","x":34.6,"y":8.15},{"s":"b","x":34.61,"y":7.995},{"s":"b","x":34.61,"y":8.025},{"s":"b","x":34.61,"y":8.055},{"s":"b","x":34.61,"y":8.085},{"s":"b","x":34.61,"y":8.115},{"s":"b","x":34.62,"y":8.005},{"s":"b","x":34.62,"y":8.035},{"s":"b","x":34.62,"y":8.065},{"s":"b","x":34.62,"y":8.095},{"s":"b","x":34.62,"y":8.125},{"s":"b","x":34.63,"y":8.015},{"s":"b","x":34.63,"y":8.045},{"s":"b","x":34.63,"y":8.075},{"s":"b","x":34.63,"y":8.105},{"s":"b","x":34.63,"y":8.135},{"s":"b","x":34.64,"y":8.015},{"s":"b","x":34.64,"y":8.045},{"s":"b","x":34.64,"y":8.075},{"s":"b","x":34.64,"y":8.105},{"s":"b","x":34.64,"y":8.14},{"s":"b","x":34.65,"y":8.02},{"s":"b","x":34.65,"y":8.055},{"s":"b","x":34.65,"y":8.085},{"s":"b","x":34.65,"y":8.115},{"s":"b","x":34.65,"y":8.15},{"s":"b","x":34.66,"y":8.035},{"s":"b","x":34.66,"y":8.065},{"s":"b","x":34.66,"y":8.095},{"s":"b","x":34.66,"y":8.125},{"s":"b","x":34.66,"y":8.16},{"s":"b","x":34.67,"y":8.085},{"s":"b","x":34.67,"y":8.115},{"s":"b","x":34.67,"y":8.145},{"s":"b","x":34.67,"y":8.175},{"s":"b","x":34.68,"y":8.125},{"s":"b","x":34.68,"y":8.155},{"s":"b","x":34.68,"y":8.185},{"s":"b","x":34.69,"y":8.135},{"s":"b","x":34.69,"y":8.165},{"s":"b","x":34.69,"y":8.195},{"s":"b","x":34.69,"y":8.225},{"s":"b","x":34.7,"y":8.145},{"s":"b","x":34.7,"y":8.175},{"s":"b","x":34.7,"y":8.205},{"s":"b","x":34.7,"y":8.235},{"s":"b","x":34.7,"y":8.26},{"s":"b","x":34.71,"y":8.185},{"s":"b","x":34.71,"y":8.215},{"s":"b","x":34.71,"y":8.245},{"s":"b","x":34.71,"y":8.27},{"s":"b","x":34.72,"y":8.215},{"s":"b","x":34.72,"y":8.245},{"s":"b","x":34.72,"y":8.275},{"s":"b","x":34.72,"y":8.3},{"s":"b","x":34.73,"y":8.235},{"s":"b","x":34.73,"y":8.265},{"s":"b","x":34.73,"y":8.29},{"s":"b","x":34.73,"y":8.31},{"s":"b","x":34.74,"y":8.265},{"s":"b","x":34.74,"y":8.29},{"s":"b","x":34.74,"y":8.31},{"s":"b","x":34.74,"y":8.327},
{"s":"m","x":34.285,"y":7.96},{"s":"m","x":34.29,"y":7.95},{"s":"m","x":34.29,"y":7.985},{"s":"m","x":34.3,"y":7.985},{"s":"m","x":34.305,"y":7.985},{"s":"m","x":34.295,"y":7.92},{"s":"m","x":34.3,"y":7.91},{"s":"m","x":34.305,"y":7.92},{"s":"m","x":34.31,"y":7.9},{"s":"m","x":34.315,"y":7.935},{"s":"m","x":34.32,"y":7.93},{"s":"m","x":34.32,"y":7.91},{"s":"m","x":34.325,"y":7.895},{"s":"m","x":34.33,"y":7.94},{"s":"m","x":34.33,"y":7.92},{"s":"m","x":34.335,"y":8.013},{"s":"m","x":34.34,"y":7.9},{"s":"m","x":34.34,"y":7.93},{"s":"m","x":34.345,"y":7.88},{"s":"m","x":34.35,"y":7.91},{"s":"m","x":34.35,"y":7.94},{"s":"m","x":34.355,"y":7.92},{"s":"m","x":34.36,"y":7.93},{"s":"m","x":34.36,"y":7.895},{"s":"m","x":34.365,"y":7.96},{"s":"m","x":34.37,"y":7.94},{"s":"m","x":34.375,"y":7.92},{"s":"m","x":34.38,"y":7.95},{"s":"m","x":34.385,"y":7.93},{"s":"m","x":34.39,"y":7.91},{"s":"m","x":34.395,"y":7.935},{"s":"m","x":34.4,"y":7.92},{"s":"m","x":34.31,"y":7.955},{"s":"m","x":34.325,"y":7.96},{"s":"m","x":34.345,"y":7.95},{"s":"m","x":34.305,"y":7.965},{"s":"m","x":34.37,"y":7.98},{"s":"m","x":34.36,"y":7.97},{"s":"m","x":34.39,"y":7.97},{"s":"m","x":34.4,"y":7.96},{"s":"m","x":34.41,"y":7.95},{"s":"m","x":34.405,"y":7.975},{"s":"m","x":34.315,"y":7.91},{"s":"m","x":34.335,"y":7.905},{"s":"m","x":34.355,"y":7.9},{"s":"m","x":34.38,"y":7.91},{"s":"m","x":34.395,"y":7.9},{"s":"m","x":34.41,"y":8.025},{"s":"m","x":34.42,"y":8.02},{"s":"m","x":34.43,"y":8.03},{"s":"m","x":34.44,"y":8.04},{"s":"m","x":34.45,"y":8.03},{"s":"m","x":34.46,"y":8.02},{"s":"m","x":34.47,"y":8.02},{"s":"m","x":34.44,"y":8.01},{"s":"m","x":34.45,"y":8.045},{"s":"m","x":34.43,"y":8.0},{"s":"m","x":34.42,"y":7.93},{"s":"m","x":34.43,"y":7.96},{"s":"m","x":34.44,"y":7.94},{"s":"m","x":34.45,"y":7.965},{"s":"m","x":34.41,"y":7.9},{"s":"m","x":34.42,"y":7.955},{"s":"m","x":34.47,"y":7.97},{"s":"m","x":34.48,"y":7.99},{"s":"m","x":34.426,"y":7.892},{"s":"m","x":34.441,"y":7.906},{"s":"m","x":34.494,"y":7.93},{"s":"m","x":34.49,"y":7.98},{"s":"m","x":34.5,"y":7.99},{"s":"m","x":34.51,"y":8.0},{"s":"m","x":34.52,"y":7.98},{"s":"m","x":34.53,"y":8.0},{"s":"m","x":34.5,"y":7.955},{"s":"m","x":34.515,"y":7.97},{"s":"m","x":34.545,"y":7.99},{"s":"m","x":34.54,"y":7.975},{"s":"m","x":34.555,"y":8.0},{"s":"m","x":34.56,"y":8.02},{"s":"m","x":34.57,"y":8.015},{"s":"m","x":34.58,"y":8.01},{"s":"m","x":34.59,"y":8.025},{"s":"m","x":34.6,"y":8.02},{"s":"m","x":34.61,"y":8.015},{"s":"m","x":34.62,"y":8.03},{"s":"m","x":34.505,"y":8.01},{"s":"m","x":34.525,"y":8.02},{"s":"m","x":34.63,"y":8.05},{"s":"m","x":34.64,"y":8.07},{"s":"m","x":34.65,"y":8.08},{"s":"m","x":34.64,"y":8.1},{"s":"m","x":34.66,"y":8.1},{"s":"m","x":34.67,"y":8.09},{"s":"m","x":34.68,"y":8.12},{"s":"m","x":34.65,"y":8.06},{"s":"m","x":34.66,"y":8.04},{"s":"m","x":34.67,"y":8.06},{"s":"m","x":34.68,"y":8.08},{"s":"m","x":34.63,"y":8.03},{"s":"m","x":34.61,"y":8.04},{"s":"m","x":34.62,"y":8.09},{"s":"m","x":34.69,"y":8.1},{"s":"m","x":34.685,"y":8.03},{"s":"m","x":34.7,"y":8.13},{"s":"m","x":34.66,"y":8.13},{"s":"m","x":34.67,"y":8.16},{"s":"m","x":34.68,"y":8.18},{"s":"m","x":34.69,"y":8.15},{"s":"m","x":34.7,"y":8.17},{"s":"m","x":34.71,"y":8.19},{"s":"m","x":34.72,"y":8.18},{"s":"m","x":34.73,"y":8.2},{"s":"m","x":34.7,"y":8.2},{"s":"m","x":34.72,"y":8.22},{"s":"m","x":34.74,"y":8.21},{"s":"m","x":34.73,"y":8.24},{"s":"m","x":34.75,"y":8.23},{"s":"m","x":34.76,"y":8.25},{"s":"m","x":34.74,"y":8.26},{"s":"m","x":34.77,"y":8.24},{"s":"m","x":34.78,"y":8.25},{"s":"m","x":34.76,"y":8.22},{"s":"m","x":34.72,"y":8.28},{"s":"m","x":34.73,"y":8.3},{"s":"m","x":34.74,"y":8.29},{"s":"m","x":34.75,"y":8.3},{"s":"m","x":34.76,"y":8.31},{"s":"m","x":34.77,"y":8.32},{"s":"m","x":34.78,"y":8.31},{"s":"m","x":34.71,"y":8.31},{"s":"m","x":34.73,"y":8.32},{"s":"m","x":34.72,"y":8.3},{"s":"m","x":34.75,"y":8.27},{"s":"m","x":34.77,"y":8.28},{"s":"m","x":34.79,"y":8.24},{"s":"m","x":34.8,"y":8.2},{"s":"m","x":34.81,"y":8.24},{"s":"m","x":34.83,"y":8.205},{"s":"m","x":34.84,"y":8.175},{"s":"m","x":34.77,"y":8.17},{"s":"m","x":34.78,"y":8.175},{"s":"m","x":34.74,"y":8.125},{"s":"m","x":34.76,"y":8.2},{"s":"m","x":34.66,"y":8.24},{"s":"m","x":34.665,"y":8.205},{"s":"m","x":34.645,"y":8.17},{"s":"m","x":34.655,"y":8.15},{"s":"m","x":34.63,"y":8.15},{"s":"m","x":34.64,"y":8.13},{"s":"m","x":34.68,"y":8.03},{"s":"m","x":34.65,"y":8.0},{"s":"m","x":34.7,"y":8.16},{"s":"m","x":34.69,"y":8.135},{"s":"m","x":34.71,"y":8.25},{"s":"m","x":34.725,"y":8.26},{"s":"m","x":34.745,"y":8.245},{"s":"m","x":34.765,"y":8.28},{"s":"m","x":34.755,"y":8.29},{"s":"m","x":34.735,"y":8.275},{"s":"m","x":34.69,"y":8.2},{"s":"m","x":34.705,"y":8.215},{"s":"m","x":34.67,"y":8.12},{"s":"m","x":34.655,"y":8.12},{"s":"m","x":34.64,"y":8.06},{"s":"m","x":34.625,"y":8.07},{"s":"m","x":34.6,"y":8.11},{"s":"m","x":34.755,"y":8.315},{"s":"m","x":34.735,"y":8.305}
],
"pd":[
{"s":"r","x":33.48,"y":9.59},{"s":"r","x":33.5,"y":9.57},{"s":"r","x":33.53,"y":9.55},{"s":"r","x":33.56,"y":9.52},{"s":"r","x":33.58,"y":9.49},{"s":"r","x":33.6,"y":9.46},{"s":"r","x":33.62,"y":9.42},{"s":"r","x":33.63,"y":9.4},{"s":"r","x":33.64,"y":9.34},{"s":"r","x":33.65,"y":9.31},{"s":"r","x":33.66,"y":9.29},{"s":"r","x":33.67,"y":9.27},{"s":"r","x":33.68,"y":9.25},{"s":"r","x":33.69,"y":9.24},{"s":"r","x":33.7,"y":9.22},{"s":"r","x":33.71,"y":9.21},{"s":"r","x":33.72,"y":9.2},{"s":"r","x":33.73,"y":9.18},{"s":"r","x":33.74,"y":9.17},{"s":"r","x":33.75,"y":9.16},{"s":"r","x":33.76,"y":9.14},{"s":"r","x":33.77,"y":9.13},{"s":"r","x":33.78,"y":9.12},{"s":"r","x":33.79,"y":9.11},{"s":"r","x":33.8,"y":9.1},{"s":"r","x":33.81,"y":9.09},{"s":"r","x":33.82,"y":9.08},{"s":"r","x":33.83,"y":9.07},{"s":"r","x":33.84,"y":9.05},{"s":"r","x":33.85,"y":9.04},{"s":"r","x":33.86,"y":9.03},{"s":"r","x":33.87,"y":9.01},{"s":"r","x":33.88,"y":9.0},{"s":"r","x":33.89,"y":8.99},{"s":"r","x":33.9,"y":8.97},{"s":"r","x":33.91,"y":8.96},{"s":"r","x":33.92,"y":8.95},{"s":"r","x":33.93,"y":8.93},{"s":"r","x":33.94,"y":8.92},{"s":"r","x":33.95,"y":8.91},{"s":"r","x":33.96,"y":8.89},{"s":"r","x":33.97,"y":8.88},{"s":"r","x":33.98,"y":8.87},{"s":"r","x":33.99,"y":8.86},{"s":"r","x":34.0,"y":8.84},{"s":"r","x":34.01,"y":8.83},{"s":"r","x":34.02,"y":8.82},{"s":"r","x":34.03,"y":8.81},{"s":"r","x":34.04,"y":8.8},{"s":"r","x":34.05,"y":8.79},{"s":"r","x":34.06,"y":8.78},{"s":"r","x":34.07,"y":8.77},{"s":"r","x":34.08,"y":8.76},{"s":"r","x":34.09,"y":8.75},{"s":"r","x":34.1,"y":8.74},{"s":"r","x":33.66,"y":9.32},{"s":"r","x":33.7,"y":9.2},{"s":"r","x":33.735,"y":9.13},{"s":"r","x":33.77,"y":9.1},{"s":"r","x":33.79,"y":9.09},{"s":"r","x":33.82,"y":9.06},{"s":"r","x":33.86,"y":9.01},{"s":"r","x":33.9,"y":8.95},{"s":"r","x":33.94,"y":8.9},{"s":"r","x":33.98,"y":8.85},{"s":"r","x":34.02,"y":8.77},{"s":"r","x":34.06,"y":8.76},{"s":"r","x":34.09,"y":8.73},{"s":"r","x":33.75,"y":9.12},{"s":"r","x":33.55,"y":9.5},{"s":"r","x":33.61,"y":9.41},{"s":"r","x":33.86,"y":9.15},
{"s":"b","x":33.5,"y":9.59},{"s":"b","x":33.56,"y":9.53},{"s":"b","x":33.6,"y":9.49},{"s":"b","x":33.61,"y":9.46},{"s":"b","x":33.62,"y":9.47},{"s":"b","x":33.62,"y":9.44},{"s":"b","x":33.64,"y":9.45},{"s":"b","x":33.64,"y":9.42},{"s":"b","x":33.66,"y":9.43},{"s":"b","x":33.66,"y":9.39},{"s":"b","x":33.675,"y":9.36},{"s":"b","x":33.68,"y":9.33},{"s":"b","x":33.68,"y":9.3},{"s":"b","x":33.69,"y":9.31},{"s":"b","x":33.69,"y":9.27},{"s":"b","x":33.7,"y":9.29},{"s":"b","x":33.7,"y":9.26},{"s":"b","x":33.71,"y":9.27},{"s":"b","x":33.71,"y":9.24},{"s":"b","x":33.72,"y":9.26},{"s":"b","x":33.72,"y":9.22},{"s":"b","x":33.73,"y":9.24},{"s":"b","x":33.73,"y":9.21},{"s":"b","x":33.74,"y":9.23},{"s":"b","x":33.74,"y":9.2},{"s":"b","x":33.75,"y":9.22},{"s":"b","x":33.75,"y":9.19},{"s":"b","x":33.75,"y":9.26},{"s":"b","x":33.76,"y":9.21},{"s":"b","x":33.76,"y":9.18},{"s":"b","x":33.76,"y":9.29},{"s":"b","x":33.765,"y":9.13},{"s":"b","x":33.77,"y":9.21},{"s":"b","x":33.77,"y":9.17},{"s":"b","x":33.77,"y":9.26},{"s":"b","x":33.78,"y":9.2},{"s":"b","x":33.78,"y":9.17},{"s":"b","x":33.78,"y":9.24},{"s":"b","x":33.79,"y":9.2},{"s":"b","x":33.79,"y":9.23},{"s":"b","x":33.795,"y":9.23},{"s":"b","x":33.8,"y":9.22},{"s":"b","x":33.8,"y":9.12},{"s":"b","x":33.8,"y":9.16},{"s":"b","x":33.81,"y":9.1},{"s":"b","x":33.81,"y":9.08},{"s":"b","x":33.815,"y":9.18},{"s":"b","x":33.82,"y":9.14},{"s":"b","x":33.82,"y":9.09},{"s":"b","x":33.82,"y":9.06},{"s":"b","x":33.83,"y":9.12},{"s":"b","x":33.83,"y":9.08},{"s":"b","x":33.83,"y":9.16},{"s":"b","x":33.83,"y":9.18},{"s":"b","x":33.84,"y":9.11},{"s":"b","x":33.84,"y":9.07},{"s":"b","x":33.84,"y":9.14},{"s":"b","x":33.845,"y":9.19},{"s":"b","x":33.85,"y":9.1},{"s":"b","x":33.85,"y":9.06},{"s":"b","x":33.85,"y":9.15},{"s":"b","x":33.85,"y":9.03},{"s":"b","x":33.86,"y":9.08},{"s":"b","x":33.86,"y":9.04},{"s":"b","x":33.86,"y":9.13},{"s":"b","x":33.86,"y":9.19},{"s":"b","x":33.87,"y":9.07},{"s":"b","x":33.87,"y":9.03},{"s":"b","x":33.87,"y":9.11},{"s":"b","x":33.875,"y":9.1},{"s":"b","x":33.88,"y":9.05},{"s":"b","x":33.88,"y":9.01},{"s":"b","x":33.88,"y":9.1},{"s":"b","x":33.885,"y":9.11},{"s":"b","x":33.89,"y":9.03},{"s":"b","x":33.89,"y":8.99},{"s":"b","x":33.89,"y":9.07},{"s":"b","x":33.895,"y":9.09},{"s":"b","x":33.9,"y":9.01},{"s":"b","x":33.9,"y":8.98},{"s":"b","x":33.9,"y":9.05},{"s":"b","x":33.905,"y":9.08},{"s":"b","x":33.91,"y":8.99},{"s":"b","x":33.91,"y":8.96},{"s":"b","x":33.91,"y":9.03},{"s":"b","x":33.92,"y":8.97},{"s":"b","x":33.92,"y":8.95},{"s":"b","x":33.92,"y":9.02},{"s":"b","x":33.93,"y":8.96},{"s":"b","x":33.93,"y":8.93},{"s":"b","x":33.93,"y":9.02},{"s":"b","x":33.94,"y":8.95},{"s":"b","x":33.94,"y":8.92},{"s":"b","x":33.94,"y":8.98},{"s":"b","x":33.95,"y":8.93},{"s":"b","x":33.95,"y":8.91},{"s":"b","x":33.95,"y":8.96},{"s":"b","x":33.96,"y":8.92},{"s":"b","x":33.96,"y":8.9},{"s":"b","x":33.96,"y":8.94},{"s":"b","x":33.97,"y":8.91},{"s":"b","x":33.97,"y":8.89},{"s":"b","x":33.97,"y":8.93},{"s":"b","x":33.98,"y":8.9},{"s":"b","x":33.98,"y":8.88},{"s":"b","x":33.98,"y":8.92},{"s":"b","x":33.99,"y":8.89},{"s":"b","x":33.99,"y":8.87},{"s":"b","x":33.99,"y":8.91},{"s":"b","x":34.0,"y":8.88},{"s":"b","x":34.0,"y":8.86},{"s":"b","x":34.0,"y":8.9},{"s":"b","x":34.01,"y":8.87},{"s":"b","x":34.01,"y":8.85},{"s":"b","x":34.01,"y":8.89},{"s":"b","x":34.02,"y":8.86},{"s":"b","x":34.02,"y":8.84},{"s":"b","x":34.02,"y":8.88},{"s":"b","x":34.03,"y":8.85},{"s":"b","x":34.03,"y":8.83},{"s":"b","x":34.03,"y":8.87},{"s":"b","x":34.04,"y":8.84},{"s":"b","x":34.04,"y":8.82},{"s":"b","x":34.04,"y":8.86},{"s":"b","x":34.05,"y":8.83},{"s":"b","x":34.05,"y":8.81},{"s":"b","x":34.05,"y":8.85},{"s":"b","x":34.06,"y":8.82},{"s":"b","x":34.06,"y":8.8},{"s":"b","x":34.06,"y":8.84},{"s":"b","x":34.07,"y":8.81},{"s":"b","x":34.07,"y":8.79},{"s":"b","x":34.07,"y":8.83},{"s":"b","x":34.08,"y":8.8},{"s":"b","x":34.08,"y":8.78},{"s":"b","x":34.08,"y":8.82},{"s":"b","x":34.09,"y":8.79},{"s":"b","x":34.09,"y":8.77},{"s":"b","x":34.09,"y":8.81},{"s":"b","x":34.1,"y":8.78},{"s":"b","x":34.1,"y":8.76},{"s":"b","x":34.1,"y":8.8},{"s":"b","x":34.03,"y":8.8},{"s":"b","x":34.04,"y":8.79},{"s":"b","x":34.06,"y":8.77},
{"s":"m","x":33.305,"y":9.97},{"s":"m","x":33.305,"y":10.02},{"s":"m","x":33.305,"y":10.06},{"s":"m","x":33.31,"y":10.05},{"s":"m","x":33.31,"y":10.08},{"s":"m","x":33.315,"y":10.02},{"s":"m","x":33.315,"y":10.1},{"s":"m","x":33.32,"y":10.06},{"s":"m","x":33.32,"y":10.09},{"s":"m","x":33.32,"y":10.0},{"s":"m","x":33.33,"y":10.08},{"s":"m","x":33.33,"y":10.03},{"s":"m","x":33.33,"y":9.98},{"s":"m","x":33.34,"y":10.1},{"s":"m","x":33.34,"y":10.05},{"s":"m","x":33.34,"y":10.0},{"s":"m","x":33.34,"y":9.96},{"s":"m","x":33.35,"y":10.04},{"s":"m","x":33.35,"y":9.99},{"s":"m","x":33.35,"y":10.09},{"s":"m","x":33.35,"y":9.95},{"s":"m","x":33.36,"y":10.03},{"s":"m","x":33.36,"y":9.97},{"s":"m","x":33.36,"y":9.93},{"s":"m","x":33.36,"y":10.06},{"s":"m","x":33.37,"y":10.0},{"s":"m","x":33.37,"y":9.95},{"s":"m","x":33.37,"y":9.91},{"s":"m","x":33.37,"y":10.04},{"s":"m","x":33.375,"y":10.07},{"s":"m","x":33.38,"y":9.98},{"s":"m","x":33.38,"y":9.93},{"s":"m","x":33.38,"y":9.89},{"s":"m","x":33.38,"y":10.05},{"s":"m","x":33.38,"y":9.84},{"s":"m","x":33.39,"y":9.95},{"s":"m","x":33.39,"y":9.9},{"s":"m","x":33.39,"y":9.86},{"s":"m","x":33.39,"y":10.02},{"s":"m","x":33.39,"y":9.8},{"s":"m","x":33.4,"y":9.93},{"s":"m","x":33.4,"y":9.88},{"s":"m","x":33.4,"y":9.83},{"s":"m","x":33.4,"y":9.97},{"s":"m","x":33.4,"y":9.81},{"s":"m","x":33.41,"y":9.91},{"s":"m","x":33.41,"y":9.86},{"s":"m","x":33.41,"y":9.81},{"s":"m","x":33.41,"y":9.96},{"s":"m","x":33.41,"y":9.7},{"s":"m","x":33.42,"y":9.88},{"s":"m","x":33.42,"y":9.84},{"s":"m","x":33.42,"y":9.79},{"s":"m","x":33.42,"y":9.93},{"s":"m","x":33.425,"y":10.01},{"s":"m","x":33.43,"y":9.86},{"s":"m","x":33.43,"y":9.81},{"s":"m","x":33.43,"y":9.77},{"s":"m","x":33.43,"y":9.9},{"s":"m","x":33.43,"y":9.76},{"s":"m","x":33.44,"y":9.83},{"s":"m","x":33.44,"y":9.79},{"s":"m","x":33.44,"y":9.75},{"s":"m","x":33.44,"y":9.87},{"s":"m","x":33.44,"y":9.72},{"s":"m","x":33.45,"y":9.81},{"s":"m","x":33.45,"y":9.77},{"s":"m","x":33.45,"y":9.73},{"s":"m","x":33.45,"y":9.85},{"s":"m","x":33.45,"y":9.66},{"s":"m","x":33.45,"y":9.95},{"s":"m","x":33.46,"y":9.78},{"s":"m","x":33.46,"y":9.74},{"s":"m","x":33.46,"y":9.71},{"s":"m","x":33.46,"y":9.83},{"s":"m","x":33.46,"y":9.88},{"s":"m","x":33.47,"y":9.76},{"s":"m","x":33.47,"y":9.72},{"s":"m","x":33.47,"y":9.68},{"s":"m","x":33.47,"y":9.8},{"s":"m","x":33.48,"y":9.74},{"s":"m","x":33.48,"y":9.7},{"s":"m","x":33.48,"y":9.66},{"s":"m","x":33.48,"y":9.78},{"s":"m","x":33.48,"y":9.84},{"s":"m","x":33.49,"y":9.72},{"s":"m","x":33.49,"y":9.68},{"s":"m","x":33.49,"y":9.64},{"s":"m","x":33.49,"y":9.76},{"s":"m","x":33.49,"y":9.6},{"s":"m","x":33.5,"y":9.7},{"s":"m","x":33.5,"y":9.66},{"s":"m","x":33.5,"y":9.62},{"s":"m","x":33.5,"y":9.74},{"s":"m","x":33.5,"y":9.82},{"s":"m","x":33.51,"y":9.68},{"s":"m","x":33.51,"y":9.64},{"s":"m","x":33.51,"y":9.6},{"s":"m","x":33.51,"y":9.72},{"s":"m","x":33.51,"y":9.77},{"s":"m","x":33.52,"y":9.66},{"s":"m","x":33.52,"y":9.62},{"s":"m","x":33.52,"y":9.58},{"s":"m","x":33.52,"y":9.7},{"s":"m","x":33.52,"y":9.75},{"s":"m","x":33.53,"y":9.64},{"s":"m","x":33.53,"y":9.6},{"s":"m","x":33.53,"y":9.56},{"s":"m","x":33.53,"y":9.68},{"s":"m","x":33.53,"y":9.73},{"s":"m","x":33.54,"y":9.62},{"s":"m","x":33.54,"y":9.58},{"s":"m","x":33.54,"y":9.54},{"s":"m","x":33.54,"y":9.66},{"s":"m","x":33.55,"y":9.6},{"s":"m","x":33.55,"y":9.56},{"s":"m","x":33.55,"y":9.52},{"s":"m","x":33.55,"y":9.64},{"s":"m","x":33.555,"y":9.61},{"s":"m","x":33.56,"y":9.58},{"s":"m","x":33.56,"y":9.54},{"s":"m","x":33.56,"y":9.5},{"s":"m","x":33.56,"y":9.62},{"s":"m","x":33.57,"y":9.56},{"s":"m","x":33.57,"y":9.52},{"s":"m","x":33.57,"y":9.48},{"s":"m","x":33.57,"y":9.6},{"s":"m","x":33.58,"y":9.54},{"s":"m","x":33.58,"y":9.5},{"s":"m","x":33.58,"y":9.46},{"s":"m","x":33.58,"y":9.58},{"s":"m","x":33.58,"y":9.42},{"s":"m","x":33.59,"y":9.52},{"s":"m","x":33.59,"y":9.48},{"s":"m","x":33.59,"y":9.44},{"s":"m","x":33.59,"y":9.56},{"s":"m","x":33.59,"y":9.62},{"s":"m","x":33.6,"y":9.5},{"s":"m","x":33.6,"y":9.46},{"s":"m","x":33.6,"y":9.43},{"s":"m","x":33.6,"y":9.54},{"s":"m","x":33.6,"y":9.58},{"s":"m","x":33.61,"y":9.48},{"s":"m","x":33.61,"y":9.45},{"s":"m","x":33.61,"y":9.52},{"s":"m","x":33.61,"y":9.68},{"s":"m","x":33.615,"y":9.66},{"s":"m","x":33.62,"y":9.47},{"s":"m","x":33.62,"y":9.44},{"s":"m","x":33.62,"y":9.5},{"s":"m","x":33.63,"y":9.46},{"s":"m","x":33.63,"y":9.43},{"s":"m","x":33.63,"y":9.49},{"s":"m","x":33.63,"y":9.53},{"s":"m","x":33.64,"y":9.44},{"s":"m","x":33.64,"y":9.41},{"s":"m","x":33.64,"y":9.47},{"s":"m","x":33.64,"y":9.55},{"s":"m","x":33.65,"y":9.42},{"s":"m","x":33.65,"y":9.39},{"s":"m","x":33.65,"y":9.45},{"s":"m","x":33.65,"y":9.5},{"s":"m","x":33.66,"y":9.4},{"s":"m","x":33.66,"y":9.37},{"s":"m","x":33.66,"y":9.43},{"s":"m","x":33.66,"y":9.48},{"s":"m","x":33.67,"y":9.38},{"s":"m","x":33.67,"y":9.35},{"s":"m","x":33.67,"y":9.41},{"s":"m","x":33.67,"y":9.52},{"s":"m","x":33.675,"y":9.47},{"s":"m","x":33.68,"y":9.36},{"s":"m","x":33.68,"y":9.33},{"s":"m","x":33.68,"y":9.39},{"s":"m","x":33.68,"y":9.45},{"s":"m","x":33.69,"y":9.34},{"s":"m","x":33.69,"y":9.31},{"s":"m","x":33.69,"y":9.37},{"s":"m","x":33.69,"y":9.4},{"s":"m","x":33.7,"y":9.32},{"s":"m","x":33.7,"y":9.29},{"s":"m","x":33.7,"y":9.35},{"s":"m","x":33.7,"y":9.27},{"s":"m","x":33.71,"y":9.3},{"s":"m","x":33.71,"y":9.27},{"s":"m","x":33.71,"y":9.34},{"s":"m","x":33.71,"y":9.4},{"s":"m","x":33.72,"y":9.28},{"s":"m","x":33.72,"y":9.25},{"s":"m","x":33.72,"y":9.31},{"s":"m","x":33.72,"y":9.42},{"s":"m","x":33.73,"y":9.27},{"s":"m","x":33.73,"y":9.24},{"s":"m","x":33.73,"y":9.3},{"s":"m","x":33.73,"y":9.35},{"s":"m","x":33.74,"y":9.25},{"s":"m","x":33.74,"y":9.22},{"s":"m","x":33.74,"y":9.28},{"s":"m","x":33.74,"y":9.35},{"s":"m","x":33.75,"y":9.24},{"s":"m","x":33.75,"y":9.21},{"s":"m","x":33.75,"y":9.27},{"s":"m","x":33.76,"y":9.23},{"s":"m","x":33.76,"y":9.2},{"s":"m","x":33.76,"y":9.25},{"s":"m","x":33.77,"y":9.22},{"s":"m","x":33.77,"y":9.19},{"s":"m","x":33.77,"y":9.24},{"s":"m","x":33.78,"y":9.21},{"s":"m","x":33.78,"y":9.19}
],
"pe":[
{"s":"r","x":34.42,"y":8.52},{"s":"r","x":34.425,"y":8.515},{"s":"r","x":34.432,"y":8.514},{"s":"r","x":34.432,"y":8.505},{"s":"r","x":34.44,"y":8.512},{"s":"r","x":34.44,"y":8.503},{"s":"r","x":34.448,"y":8.508},{"s":"r","x":34.448,"y":8.498},{"s":"r","x":34.448,"y":8.49},{"s":"r","x":34.456,"y":8.503},{"s":"r","x":34.456,"y":8.494},{"s":"r","x":34.456,"y":8.485},{"s":"r","x":34.464,"y":8.498},{"s":"r","x":34.464,"y":8.489},{"s":"r","x":34.464,"y":8.48},{"s":"r","x":34.472,"y":8.493},{"s":"r","x":34.472,"y":8.484},{"s":"r","x":34.472,"y":8.475},{"s":"r","x":34.48,"y":8.488},{"s":"r","x":34.48,"y":8.479},{"s":"r","x":34.48,"y":8.47},{"s":"r","x":34.488,"y":8.482},{"s":"r","x":34.488,"y":8.473},{"s":"r","x":34.488,"y":8.464},{"s":"r","x":34.496,"y":8.476},{"s":"r","x":34.496,"y":8.467},{"s":"r","x":34.496,"y":8.458},{"s":"r","x":34.504,"y":8.47},{"s":"r","x":34.504,"y":8.461},{"s":"r","x":34.504,"y":8.452},{"s":"r","x":34.512,"y":8.464},{"s":"r","x":34.512,"y":8.455},{"s":"r","x":34.512,"y":8.446},{"s":"r","x":34.52,"y":8.458},{"s":"r","x":34.52,"y":8.449},{"s":"r","x":34.52,"y":8.44},{"s":"r","x":34.528,"y":8.452},{"s":"r","x":34.528,"y":8.443},{"s":"r","x":34.528,"y":8.434},{"s":"r","x":34.536,"y":8.446},{"s":"r","x":34.536,"y":8.437},{"s":"r","x":34.536,"y":8.428},{"s":"r","x":34.544,"y":8.44},{"s":"r","x":34.544,"y":8.431},{"s":"r","x":34.544,"y":8.422},{"s":"r","x":34.552,"y":8.434},{"s":"r","x":34.552,"y":8.425},{"s":"r","x":34.552,"y":8.416},{"s":"r","x":34.56,"y":8.428},{"s":"r","x":34.56,"y":8.419},{"s":"r","x":34.56,"y":8.41},{"s":"r","x":34.568,"y":8.422},{"s":"r","x":34.568,"y":8.413},{"s":"r","x":34.568,"y":8.404},{"s":"r","x":34.576,"y":8.416},{"s":"r","x":34.576,"y":8.407},{"s":"r","x":34.576,"y":8.398},{"s":"r","x":34.584,"y":8.41},{"s":"r","x":34.584,"y":8.401},{"s":"r","x":34.584,"y":8.392},{"s":"r","x":34.592,"y":8.404},{"s":"r","x":34.592,"y":8.395},{"s":"r","x":34.592,"y":8.386},{"s":"r","x":34.6,"y":8.398},{"s":"r","x":34.6,"y":8.389},{"s":"r","x":34.6,"y":8.38},{"s":"r","x":34.54,"y":8.378},{"s":"r","x":34.56,"y":8.375},{"s":"r","x":34.58,"y":8.37},
{"s":"b","x":34.38,"y":8.51},{"s":"b","x":34.38,"y":8.5},{"s":"b","x":34.388,"y":8.512},{"s":"b","x":34.388,"y":8.502},{"s":"b","x":34.388,"y":8.492},{"s":"b","x":34.396,"y":8.51},{"s":"b","x":34.396,"y":8.5},{"s":"b","x":34.396,"y":8.49},{"s":"b","x":34.396,"y":8.48},{"s":"b","x":34.404,"y":8.508},{"s":"b","x":34.404,"y":8.498},{"s":"b","x":34.404,"y":8.488},{"s":"b","x":34.404,"y":8.478},{"s":"b","x":34.412,"y":8.505},{"s":"b","x":34.412,"y":8.495},{"s":"b","x":34.412,"y":8.485},{"s":"b","x":34.412,"y":8.475},{"s":"b","x":34.412,"y":8.465},{"s":"b","x":34.42,"y":8.5},{"s":"b","x":34.42,"y":8.49},{"s":"b","x":34.42,"y":8.48},{"s":"b","x":34.42,"y":8.47},{"s":"b","x":34.42,"y":8.46},{"s":"b","x":34.428,"y":8.495},{"s":"b","x":34.428,"y":8.485},{"s":"b","x":34.428,"y":8.475},{"s":"b","x":34.428,"y":8.465},{"s":"b","x":34.428,"y":8.455},{"s":"b","x":34.428,"y":8.447},{"s":"b","x":34.436,"y":8.49},{"s":"b","x":34.436,"y":8.48},{"s":"b","x":34.436,"y":8.47},{"s":"b","x":34.436,"y":8.46},{"s":"b","x":34.436,"y":8.45},{"s":"b","x":34.436,"y":8.44},{"s":"b","x":34.444,"y":8.484},{"s":"b","x":34.444,"y":8.474},{"s":"b","x":34.444,"y":8.464},{"s":"b","x":34.444,"y":8.454},{"s":"b","x":34.444,"y":8.444},{"s":"b","x":34.444,"y":8.434},{"s":"b","x":34.452,"y":8.478},{"s":"b","x":34.452,"y":8.468},{"s":"b","x":34.452,"y":8.458},{"s":"b","x":34.452,"y":8.448},{"s":"b","x":34.452,"y":8.438},{"s":"b","x":34.452,"y":8.428},{"s":"b","x":34.46,"y":8.472},{"s":"b","x":34.46,"y":8.462},{"s":"b","x":34.46,"y":8.452},{"s":"b","x":34.46,"y":8.442},{"s":"b","x":34.46,"y":8.432},{"s":"b","x":34.46,"y":8.422},{"s":"b","x":34.46,"y":8.415},{"s":"b","x":34.468,"y":8.466},{"s":"b","x":34.468,"y":8.456},{"s":"b","x":34.468,"y":8.446},{"s":"b","x":34.468,"y":8.436},{"s":"b","x":34.468,"y":8.426},{"s":"b","x":34.468,"y":8.416},{"s":"b","x":34.468,"y":8.407},{"s":"b","x":34.476,"y":8.46},{"s":"b","x":34.476,"y":8.45},{"s":"b","x":34.476,"y":8.44},{"s":"b","x":34.476,"y":8.43},{"s":"b","x":34.476,"y":8.42},{"s":"b","x":34.476,"y":8.41},{"s":"b","x":34.476,"y":8.4},{"s":"b","x":34.484,"y":8.454},{"s":"b","x":34.484,"y":8.444},{"s":"b","x":34.484,"y":8.434},{"s":"b","x":34.484,"y":8.424},{"s":"b","x":34.484,"y":8.414},{"s":"b","x":34.484,"y":8.404},{"s":"b","x":34.484,"y":8.394},{"s":"b","x":34.492,"y":8.448},{"s":"b","x":34.492,"y":8.438},{"s":"b","x":34.492,"y":8.428},{"s":"b","x":34.492,"y":8.418},{"s":"b","x":34.492,"y":8.408},{"s":"b","x":34.492,"y":8.398},{"s":"b","x":34.492,"y":8.388},{"s":"b","x":34.492,"y":8.38},{"s":"b","x":34.5,"y":8.442},{"s":"b","x":34.5,"y":8.432},{"s":"b","x":34.5,"y":8.422},{"s":"b","x":34.5,"y":8.412},{"s":"b","x":34.5,"y":8.402},{"s":"b","x":34.5,"y":8.392},{"s":"b","x":34.5,"y":8.382},{"s":"b","x":34.5,"y":8.372},{"s":"b","x":34.508,"y":8.436},{"s":"b","x":34.508,"y":8.426},{"s":"b","x":34.508,"y":8.416},{"s":"b","x":34.508,"y":8.406},{"s":"b","x":34.508,"y":8.396},{"s":"b","x":34.508,"y":8.386},{"s":"b","x":34.508,"y":8.376},{"s":"b","x":34.508,"y":8.366},{"s":"b","x":34.516,"y":8.43},{"s":"b","x":34.516,"y":8.42},{"s":"b","x":34.516,"y":8.41},{"s":"b","x":34.516,"y":8.4},{"s":"b","x":34.516,"y":8.39},{"s":"b","x":34.516,"y":8.38},{"s":"b","x":34.516,"y":8.37},{"s":"b","x":34.516,"y":8.36},{"s":"b","x":34.524,"y":8.425},{"s":"b","x":34.524,"y":8.415},{"s":"b","x":34.524,"y":8.405},{"s":"b","x":34.524,"y":8.395},{"s":"b","x":34.524,"y":8.385},{"s":"b","x":34.524,"y":8.375},{"s":"b","x":34.524,"y":8.365},{"s":"b","x":34.524,"y":8.356},{"s":"b","x":34.532,"y":8.42},{"s":"b","x":34.532,"y":8.41},{"s":"b","x":34.532,"y":8.4},{"s":"b","x":34.532,"y":8.39},{"s":"b","x":34.532,"y":8.38},{"s":"b","x":34.532,"y":8.37},{"s":"b","x":34.532,"y":8.36},{"s":"b","x":34.532,"y":8.353},{"s":"b","x":34.54,"y":8.415},{"s":"b","x":34.54,"y":8.405},{"s":"b","x":34.54,"y":8.395},{"s":"b","x":34.54,"y":8.385},{"s":"b","x":34.54,"y":8.365},{"s":"b","x":34.54,"y":8.356},{"s":"b","x":34.548,"y":8.41},{"s":"b","x":34.548,"y":8.4},{"s":"b","x":34.548,"y":8.39},{"s":"b","x":34.548,"y":8.36},{"s":"b","x":34.548,"y":8.354},{"s":"b","x":34.556,"y":8.405},{"s":"b","x":34.556,"y":8.395},{"s":"b","x":34.556,"y":8.385},{"s":"b","x":34.556,"y":8.365},{"s":"b","x":34.556,"y":8.357},{"s":"b","x":34.564,"y":8.4},{"s":"b","x":34.564,"y":8.39},{"s":"b","x":34.564,"y":8.36},{"s":"b","x":34.572,"y":8.395},{"s":"b","x":34.572,"y":8.385},{"s":"b","x":34.572,"y":8.365},{"s":"b","x":34.572,"y":8.357},{"s":"b","x":34.58,"y":8.39},{"s":"b","x":34.58,"y":8.38},{"s":"b","x":34.58,"y":8.36},{"s":"b","x":34.588,"y":8.384},{"s":"b","x":34.588,"y":8.374},{"s":"b","x":34.588,"y":8.364},{"s":"b","x":34.588,"y":8.356},{"s":"b","x":34.596,"y":8.378},{"s":"b","x":34.596,"y":8.368},{"s":"b","x":34.596,"y":8.358},{"s":"b","x":34.6,"y":8.372},{"s":"b","x":34.6,"y":8.362},{"s":"b","x":34.495,"y":8.352},{"s":"b","x":34.51,"y":8.355},
{"s":"m","x":34.1,"y":8.79},{"s":"m","x":34.103,"y":8.785},{"s":"m","x":34.105,"y":8.78},{"s":"m","x":34.108,"y":8.775},{"s":"m","x":34.11,"y":8.77},{"s":"m","x":34.115,"y":8.768},{"s":"m","x":34.12,"y":8.765},{"s":"m","x":34.125,"y":8.763},{"s":"m","x":34.13,"y":8.762},{"s":"m","x":34.105,"y":8.753},{"s":"m","x":34.136,"y":8.737},{"s":"m","x":34.145,"y":8.741},{"s":"m","x":34.148,"y":8.735},{"s":"m","x":34.152,"y":8.73},{"s":"m","x":34.154,"y":8.725},{"s":"m","x":34.157,"y":8.719},{"s":"m","x":34.153,"y":8.71},{"s":"m","x":34.165,"y":8.708},{"s":"m","x":34.168,"y":8.695},{"s":"m","x":34.17,"y":8.688},{"s":"m","x":34.166,"y":8.68},{"s":"m","x":34.172,"y":8.697},{"s":"m","x":34.175,"y":8.633},{"s":"m","x":34.18,"y":8.628},{"s":"m","x":34.185,"y":8.623},{"s":"m","x":34.19,"y":8.615},{"s":"m","x":34.195,"y":8.62},{"s":"m","x":34.2,"y":8.625},{"s":"m","x":34.2,"y":8.6},{"s":"m","x":34.205,"y":8.61},{"s":"m","x":34.21,"y":8.62},{"s":"m","x":34.21,"y":8.6},{"s":"m","x":34.215,"y":8.63},{"s":"m","x":34.22,"y":8.615},{"s":"m","x":34.225,"y":8.605},{"s":"m","x":34.23,"y":8.62},{"s":"m","x":34.235,"y":8.63},{"s":"m","x":34.24,"y":8.615},{"s":"m","x":34.245,"y":8.6},{"s":"m","x":34.25,"y":8.625},{"s":"m","x":34.255,"y":8.64},{"s":"m","x":34.26,"y":8.63},{"s":"m","x":34.265,"y":8.615},{"s":"m","x":34.27,"y":8.62},{"s":"m","x":34.275,"y":8.61},{"s":"m","x":34.28,"y":8.605},{"s":"m","x":34.24,"y":8.585},{"s":"m","x":34.255,"y":8.585},{"s":"m","x":34.2,"y":8.59},{"s":"m","x":34.215,"y":8.595},{"s":"m","x":34.23,"y":8.595},{"s":"m","x":34.205,"y":8.64},{"s":"m","x":34.2,"y":8.658},{"s":"m","x":34.21,"y":8.67},{"s":"m","x":34.203,"y":8.645},{"s":"m","x":34.245,"y":8.638},{"s":"m","x":34.26,"y":8.642},{"s":"m","x":34.22,"y":8.6},{"s":"m","x":34.19,"y":8.6},{"s":"m","x":34.185,"y":8.612},{"s":"m","x":34.265,"y":8.6},{"s":"m","x":34.27,"y":8.595},{"s":"m","x":34.29,"y":8.6},{"s":"m","x":34.235,"y":8.61},{"s":"m","x":34.25,"y":8.605},{"s":"m","x":34.3,"y":8.612},{"s":"m","x":34.305,"y":8.6},{"s":"m","x":34.31,"y":8.595},{"s":"m","x":34.315,"y":8.585},{"s":"m","x":34.32,"y":8.59},{"s":"m","x":34.325,"y":8.58},{"s":"m","x":34.33,"y":8.575},{"s":"m","x":34.335,"y":8.57},{"s":"m","x":34.34,"y":8.565},{"s":"m","x":34.345,"y":8.57},{"s":"m","x":34.35,"y":8.565},{"s":"m","x":34.3,"y":8.56},{"s":"m","x":34.305,"y":8.555},{"s":"m","x":34.31,"y":8.56},{"s":"m","x":34.315,"y":8.545},{"s":"m","x":34.32,"y":8.54},{"s":"m","x":34.325,"y":8.535},{"s":"m","x":34.33,"y":8.55},{"s":"m","x":34.335,"y":8.545},{"s":"m","x":34.34,"y":8.55},{"s":"m","x":34.345,"y":8.54},{"s":"m","x":34.35,"y":8.545},{"s":"m","x":34.355,"y":8.54},{"s":"m","x":34.32,"y":8.56},{"s":"m","x":34.33,"y":8.53},{"s":"m","x":34.34,"y":8.535},{"s":"m","x":34.31,"y":8.54},{"s":"m","x":34.36,"y":8.535},{"s":"m","x":34.365,"y":8.53},{"s":"m","x":34.37,"y":8.535},{"s":"m","x":34.375,"y":8.525},{"s":"m","x":34.38,"y":8.52},{"s":"m","x":34.385,"y":8.51},{"s":"m","x":34.39,"y":8.52},{"s":"m","x":34.395,"y":8.515},{"s":"m","x":34.4,"y":8.5},{"s":"m","x":34.405,"y":8.495},{"s":"m","x":34.41,"y":8.49},{"s":"m","x":34.36,"y":8.52},{"s":"m","x":34.38,"y":8.505},{"s":"m","x":34.39,"y":8.505},{"s":"m","x":34.395,"y":8.48},{"s":"m","x":34.4,"y":8.475},{"s":"m","x":34.405,"y":8.47},{"s":"m","x":34.41,"y":8.465},{"s":"m","x":34.415,"y":8.48},{"s":"m","x":34.42,"y":8.49},{"s":"m","x":34.425,"y":8.485},{"s":"m","x":34.43,"y":8.5},{"s":"m","x":34.385,"y":8.49},{"s":"m","x":34.43,"y":8.515},{"s":"m","x":34.435,"y":8.51},{"s":"m","x":34.37,"y":8.44},{"s":"m","x":34.375,"y":8.445},{"s":"m","x":34.38,"y":8.44},{"s":"m","x":34.385,"y":8.455},{"s":"m","x":34.39,"y":8.44},{"s":"m","x":34.395,"y":8.43},{"s":"m","x":34.4,"y":8.45},{"s":"m","x":34.405,"y":8.44},{"s":"m","x":34.41,"y":8.435},{"s":"m","x":34.415,"y":8.43},{"s":"m","x":34.42,"y":8.445},{"s":"m","x":34.425,"y":8.44},{"s":"m","x":34.43,"y":8.43},{"s":"m","x":34.435,"y":8.435},{"s":"m","x":34.44,"y":8.445},{"s":"m","x":34.445,"y":8.45},{"s":"m","x":34.44,"y":8.42},{"s":"m","x":34.445,"y":8.415},{"s":"m","x":34.45,"y":8.41},{"s":"m","x":34.455,"y":8.405},{"s":"m","x":34.46,"y":8.41},{"s":"m","x":34.465,"y":8.4},{"s":"m","x":34.45,"y":8.425},{"s":"m","x":34.455,"y":8.43},{"s":"m","x":34.46,"y":8.42},{"s":"m","x":34.445,"y":8.4},{"s":"m","x":34.39,"y":8.425},{"s":"m","x":34.4,"y":8.43},{"s":"m","x":34.38,"y":8.43},{"s":"m","x":34.395,"y":8.455},{"s":"m","x":34.41,"y":8.455}
],
"pf":[
{"d":"2021-02-26","v":0,"s":"g"},{"d":"2021-03-14","v":0,"s":"g"},{"d":"2021-04-09","v":-0.02,"s":"g"},{"d":"2021-05-11","v":-0.03,"s":"g"},{"d":"2021-06-12","v":-0.02,"s":"g"},{"d":"2021-07-07","v":0.04,"s":"g"}
]
},
"concat":[
{"width":372,"height":270,"title":"2021-03-14 to 2021-03-16",
"layer":[
{"data":{"name":"pa"},"mark":{"type":"circle","size":34,"opacity":1,"clip":true},
"encoding":{
"x":{"field":"x","type":"quantitative","scale":{"domain":[33.2,34.0],"nice":false,"zero":false},"axis":{"title":"Salinity","tickCount":30,"values":[33.2,33.3,33.4,33.5,33.6,33.7,33.8,33.9,34.0],"format":".1f"}},
"y":{"field":"y","type":"quantitative","scale":{"domain":[6.8,8.5],"nice":false,"zero":false},"axis":{"title":"Temperature [C ° ]","tickCount":30,"values":[6.8,7.0,7.2,7.4,7.6,7.8,8.0,8.2,8.4],"format":".1f"}},
"color":{"field":"s","type":"nominal","title":null,"scale":{"domain":["r","b","m","g"],"range":["#d3d3d3","#0000ff","#ff00ff","#008000"]},
"legend":{"orient":"none","legendX":-83,"legendY":-84,"direction":"horizontal","columns":4,"symbolType":"circle","labelExpr":"datum.value == 'r' ? 'sn 202463, raw' : datum.value == 'b' ? 'sn 202463, correction suggestion' : datum.value == 'm' ? 'sn 8974, corrected' : 'Offset evolution sn202463'"}}
}},
{"data":{"values":[{"x":33.265,"y":8.343,"t":"A"}]},"mark":{"type":"text","fontSize":20,"align":"center","baseline":"middle","color":"black"},
"encoding":{"x":{"field":"x","type":"quantitative"},"y":{"field":"y","type":"quantitative"},"text":{"field":"t"}}},
{"data":{"values":[{"x":33.701,"y":7.033,"t":"correction factor: 0"}]},"mark":{"type":"text","fontSize":12.5,"align":"left","baseline":"middle","color":"black"},
"encoding":{"x":{"field":"x","type":"quantitative"},"y":{"field":"y","type":"quantitative"},"text":{"field":"t"}}}
]},
{"width":372,"height":270,"title":"2021-04-09 to 2021-04-11",
"layer":[
{"data":{"name":"pb"},"mark":{"type":"circle","size":34,"opacity":1,"clip":true},
"encoding":{
"x":{"field":"x","type":"quantitative","scale":{"domain":[34.7695,35.084],"nice":false,"zero":false},"axis":{"title":"Salinity","tickCount":30,"values":[34.8,34.85,34.9,34.95,35.0,35.05],"format":".2f"}},
"y":{"field":"y","type":"quantitative","scale":{"domain":[8.2952,8.5718],"nice":false,"zero":false},"axis":{"title":"Temperature [C ° ]","tickCount":30,"values":[8.3,8.35,8.4,8.45,8.5,8.55],"format":".2f"}},
"color":{"field":"s","type":"nominal","title":null,"scale":{"domain":["r","b","m","g"],"range":["#d3d3d3","#0000ff","#ff00ff","#008000"]},
"legend":{"orient":"none","legendX":-83,"legendY":-84,"direction":"horizontal","columns":4,"symbolType":"circle","labelExpr":"datum.value == 'r' ? 'sn 202463, raw' : datum.value == 'b' ? 'sn 202463, correction suggestion' : datum.value == 'm' ? 'sn 8974, corrected' : 'Offset evolution sn202463'"}}
}},
{"data":{"values":[{"x":35.056,"y":8.537,"t":"B"}]},"mark":{"type":"text","fontSize":20,"align":"center","baseline":"middle","color":"black"},
"encoding":{"x":{"field":"x","type":"quantitative"},"y":{"field":"y","type":"quantitative"},"text":{"field":"t"}}},
{"data":{"values":[{"x":34.8,"y":8.4048,"t":"correction factor: -0.02"}]},"mark":{"type":"text","fontSize":12.5,"align":"left","baseline":"middle","color":"black"},
"encoding":{"x":{"field":"x","type":"quantitative"},"y":{"field":"y","type":"quantitative"},"text":{"field":"t"}}}
]},
{"width":372,"height":270,"title":"2021-05-11 to 2021-05-13",
"layer":[
{"data":{"name":"pc"},"mark":{"type":"circle","size":34,"opacity":1,"clip":true},
"encoding":{
"x":{"field":"x","type":"quantitative","scale":{"domain":[34.245,35.026],"nice":false,"zero":false},"axis":{"title":"Salinity","tickCount":30,"values":[34.3,34.4,34.5,34.6,34.7,34.8,34.9,35.0],"format":".1f"}},
"y":{"field":"y","type":"quantitative","scale":{"domain":[7.856,8.369],"nice":false,"zero":false},"axis":{"title":"Temperature [C ° ]","tickCount":30,"values":[7.9,8.0,8.1,8.2,8.3],"format":".1f"}},
"color":{"field":"s","type":"nominal","title":null,"scale":{"domain":["r","b","m","g"],"range":["#d3d3d3","#0000ff","#ff00ff","#008000"]},
"legend":{"orient":"none","legendX":-83,"legendY":-84,"direction":"horizontal","columns":4,"symbolType":"circle","labelExpr":"datum.value == 'r' ? 'sn 202463, raw' : datum.value == 'b' ? 'sn 202463, correction suggestion' : datum.value == 'm' ? 'sn 8974, corrected' : 'Offset evolution sn202463'"}}
}},
{"data":{"values":[{"x":34.316,"y":8.3125,"t":"C"}]},"mark":{"type":"text","fontSize":20,"align":"center","baseline":"middle","color":"black"},
"encoding":{"x":{"field":"x","type":"quantitative"},"y":{"field":"y","type":"quantitative"},"text":{"field":"t"}}},
{"data":{"values":[{"x":34.651,"y":7.909,"t":"correction factor:-0.03"}]},"mark":{"type":"text","fontSize":12.5,"align":"left","baseline":"middle","color":"black"},
"encoding":{"x":{"field":"x","type":"quantitative"},"y":{"field":"y","type":"quantitative"},"text":{"field":"t"}}}
]},
{"width":372,"height":270,"title":"2021-06-12 to 2021-06-14",
"layer":[
{"data":{"name":"pd"},"mark":{"type":"circle","size":34,"opacity":1,"clip":true},
"encoding":{
"x":{"field":"x","type":"quantitative","scale":{"domain":[33.3,34.1],"nice":false,"zero":false},"axis":{"title":"Salinity","tickCount":30,"values":[33.3,33.4,33.5,33.6,33.7,33.8,33.9,34.0,34.1],"format":".1f"}},
"y":{"field":"y","type":"quantitative","scale":{"domain":[8.7,10.104],"nice":false,"zero":false},"axis":{"title":"Temperature [C ° ]","tickCount":30,"values":[8.8,9.0,9.2,9.4,9.6,9.8,10.0],"format":".1f"}},
"color":{"field":"s","type":"nominal","title":null,"scale":{"domain":["r","b","m","g"],"range":["#d3d3d3","#0000ff","#ff00ff","#008000"]},
"legend":{"orient":"none","legendX":-83,"legendY":-84,"direction":"horizontal","columns":4,"symbolType":"circle","labelExpr":"datum.value == 'r' ? 'sn 202463, raw' : datum.value == 'b' ? 'sn 202463, correction suggestion' : datum.value == 'm' ? 'sn 8974, corrected' : 'Offset evolution sn202463'"}}
}},
{"data":{"values":[{"x":34.014,"y":9.934,"t":"D"}]},"mark":{"type":"text","fontSize":20,"align":"center","baseline":"middle","color":"black"},
"encoding":{"x":{"field":"x","type":"quantitative"},"y":{"field":"y","type":"quantitative"},"text":{"field":"t"}}},
{"data":{"values":[{"x":33.4,"y":8.925,"t":"correction factor:-0.02"}]},"mark":{"type":"text","fontSize":12.5,"align":"left","baseline":"middle","color":"black"},
"encoding":{"x":{"field":"x","type":"quantitative"},"y":{"field":"y","type":"quantitative"},"text":{"field":"t"}}}
]},
{"width":372,"height":270,"title":"2021-07-07 to 2021-07-09",
"layer":[
{"data":{"name":"pe"},"mark":{"type":"circle","size":34,"opacity":1,"clip":true},
"encoding":{
"x":{"field":"x","type":"quantitative","scale":{"domain":[34.1,34.6],"nice":false,"zero":false},"axis":{"title":"Salinity","tickCount":30,"values":[34.1,34.2,34.3,34.4,34.5,34.6],"format":".1f"}},
"y":{"field":"y","type":"quantitative","scale":{"domain":[8.351,8.8],"nice":false,"zero":false},"axis":{"title":"Temperature [C ° ]","tickCount":30,"values":[8.4,8.5,8.6,8.7,8.8],"format":".1f"}},
"color":{"field":"s","type":"nominal","title":null,"scale":{"domain":["r","b","m","g"],"range":["#d3d3d3","#0000ff","#ff00ff","#008000"]},
"legend":{"orient":"none","legendX":-83,"legendY":-84,"direction":"horizontal","columns":4,"symbolType":"circle","labelExpr":"datum.value == 'r' ? 'sn 202463, raw' : datum.value == 'b' ? 'sn 202463, correction suggestion' : datum.value == 'm' ? 'sn 8974, corrected' : 'Offset evolution sn202463'"}}
}},
{"data":{"values":[{"x":34.558,"y":8.76,"t":"E"}]},"mark":{"type":"text","fontSize":20,"align":"center","baseline":"middle","color":"black"},
"encoding":{"x":{"field":"x","type":"quantitative"},"y":{"field":"y","type":"quantitative"},"text":{"field":"t"}}},
{"data":{"values":[{"x":34.151,"y":8.407,"t":"correction factor:0.04"}]},"mark":{"type":"text","fontSize":12.5,"align":"left","baseline":"middle","color":"black"},
"encoding":{"x":{"field":"x","type":"quantitative"},"y":{"field":"y","type":"quantitative"},"text":{"field":"t"}}}
]},
{"width":372,"height":270,
"layer":[
{"data":{"name":"pf"},"mark":{"type":"line","strokeWidth":1.6,"color":"#008000"},
"encoding":{
"x":{"field":"d","type":"temporal","scale":{"type":"utc","domain":[{"year":2021,"month":2,"date":19,"hours":13,"utc":true},{"year":2021,"month":7,"date":13,"hours":14,"utc":true}]},"axis":{"title":null,"tickCount":30,"values":[{"year":2021,"month":2,"date":26,"utc":true},{"year":2021,"month":3,"date":14,"utc":true},{"year":2021,"month":4,"date":9,"utc":true},{"year":2021,"month":5,"date":11,"utc":true},{"year":2021,"month":6,"date":12,"utc":true},{"year":2021,"month":7,"date":7,"utc":true}],"format":"%Y-%m-%d","labelAngle":340,"labelAlign":"center","labelBaseline":"middle","labelPadding":23}},
"y":{"field":"v","type":"quantitative","scale":{"domain":[-0.0334,0.0435],"nice":false,"zero":false},"axis":{"title":"Correction factor","tickCount":30,"values":[-0.03,-0.02,-0.01,0,0.01,0.02,0.03,0.04],"format":".2f"}},
"strokeDash":{"field":"s","type":"nominal","title":null,"scale":{"domain":["g"],"range":[[1,0]]},"legend":{"orient":"none","legendX":663,"legendY":-86,"labelExpr":"''","symbolType":"M-1,0H1M-0.26,-0.26H0.26V0.26H-0.26Z","symbolSize":1024,"symbolStrokeColor":"#008000","symbolFillColor":"#008000","symbolStrokeWidth":2,"fillColor":"transparent","strokeColor":"transparent","padding":0,"symbolOffset":0}}
}},
{"data":{"name":"pf"},"mark":{"type":"square","size":70,"opacity":1,"filled":true,"color":"#008000"},
"encoding":{
"x":{"field":"d","type":"temporal"},
"y":{"field":"v","type":"quantitative"}
}},
{"data":{"values":[{"d":"2021-03-02T03:00:00Z","v":0.0367,"t":"F"}]},"mark":{"type":"text","fontSize":20,"align":"center","baseline":"middle","color":"black"},
"encoding":{"x":{"field":"d","type":"temporal"},"y":{"field":"v","type":"quantitative"},"text":{"field":"t"}}}
]}
]
}
